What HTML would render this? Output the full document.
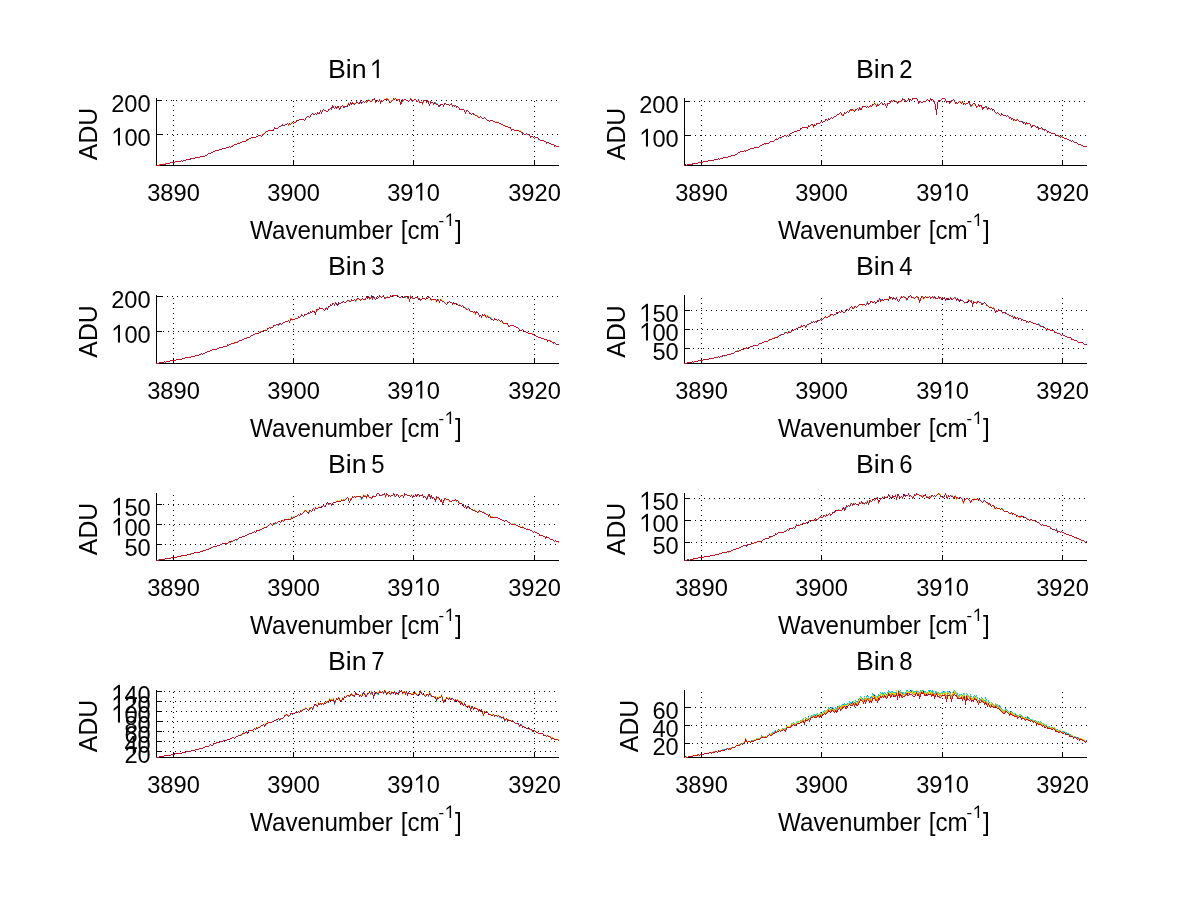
<!DOCTYPE html>
<html><head><meta charset="utf-8"><title>Bins</title>
<style>html,body{margin:0;padding:0;background:#fff;}svg{display:block;font-family:"Liberation Sans", sans-serif;fill:#000;}</style></head><body>
<svg width="1200" height="901" viewBox="0 0 1200 901">
<rect x="0" y="0" width="1200" height="901" fill="#fff"/>
<g fill="#000" stroke="#000" stroke-width="1" stroke-dasharray="1 4" shape-rendering="crispEdges">
<line x1="173.5" y1="166" x2="173.5" y2="99"/>
<rect x="173" y="160" width="1" height="5" stroke="none"/>
<line x1="293.5" y1="162" x2="293.5" y2="99"/>
<rect x="293" y="160" width="1" height="5" stroke="none"/>
<line x1="413.5" y1="166" x2="413.5" y2="99"/>
<rect x="413" y="160" width="1" height="5" stroke="none"/>
<line x1="534.5" y1="162" x2="534.5" y2="99"/>
<rect x="534" y="160" width="1" height="5" stroke="none"/>
<line x1="161" y1="100.5" x2="559" y2="100.5"/>
<rect x="157" y="100" width="5" height="1" stroke="none"/>
<line x1="162" y1="134.5" x2="559" y2="134.5"/>
<rect x="157" y="134" width="5" height="1" stroke="none"/>
</g>
<g fill="#000" shape-rendering="crispEdges">
<rect x="156" y="98" width="1" height="68"/>
<rect x="156" y="165" width="403" height="1"/>
</g>
<g shape-rendering="crispEdges">
<path fill="#c01028" d="M156 165h4v1h-4zM160 164h6v1h-6zM166 163h4v1h-4zM170 162h5v1h-5zM175 161h6v1h-6zM181 160h1v1h-1zM182 161h1v1h-1zM183 160h3v1h-3zM186 159h4v1h-4zM190 158h5v1h-5zM195 157h5v1h-5zM200 156h5v1h-5zM205 155h2v1h-2zM207 154h1v1h-1zM208 153h3v1h-3zM211 152h2v1h-2zM213 151h2v1h-2zM215 150h4v1h-4zM219 149h3v1h-3zM222 148h4v1h-4zM226 147h3v1h-3zM229 146h1v1h-1zM230 147h1v1h-1zM231 146h2v1h-2zM233 145h1v1h-1zM234 144h3v1h-3zM237 143h3v1h-3zM240 142h2v1h-2zM242 141h4v1h-4zM246 140h1v1h-1zM247 139h2v1h-2zM249 138h2v1h-2zM251 137h5v1h-5zM256 136h2v1h-2zM258 135h3v1h-3zM261 136h1v1h-1zM262 134h1v2h-1zM263 134h1v1h-1zM264 133h1v1h-1zM265 132h1v1h-1zM266 131h2v1h-2zM268 130h5v1h-5zM273 129h1v2h-1zM274 127h1v2h-1zM275 128h3v1h-3zM278 127h1v1h-1zM279 126h2v1h-2zM281 125h1v1h-1zM282 124h1v1h-1zM283 125h2v1h-2zM285 124h2v1h-2zM287 123h1v1h-1zM288 124h1v1h-1zM289 123h1v1h-1zM290 124h1v1h-1zM291 123h1v1h-1zM292 122h1v1h-1zM293 123h1v1h-1zM294 122h2v1h-2zM296 120h1v2h-1zM297 120h2v1h-2zM299 119h5v1h-5zM304 120h1v1h-1zM305 118h1v2h-1zM306 117h1v1h-1zM307 116h2v1h-2zM309 117h1v1h-1zM310 115h1v2h-1zM311 114h1v1h-1zM312 113h1v1h-1zM313 114h2v1h-2zM315 113h1v1h-1zM316 114h1v1h-1zM317 112h1v2h-1zM318 113h1v1h-1zM319 112h1v2h-1zM320 110h1v2h-1zM321 112h1v2h-1zM322 110h1v2h-1zM323 109h1v1h-1zM324 110h2v1h-2zM326 111h2v1h-2zM328 109h1v2h-1zM329 109h1v1h-1zM330 108h1v1h-1zM331 107h1v2h-1zM332 105h1v2h-1zM333 106h1v2h-1zM334 108h1v1h-1zM335 106h1v2h-1zM336 107h1v2h-1zM337 106h2v2h-2zM339 108h1v2h-1zM340 107h1v2h-1zM341 106h1v1h-1zM342 105h1v1h-1zM343 106h1v2h-1zM344 106h3v1h-3zM347 105h1v1h-1zM348 103h1v2h-1zM349 104h1v2h-1zM350 102h1v2h-1zM351 103h1v2h-1zM352 102h1v2h-1zM353 103h1v1h-1zM354 104h1v1h-1zM355 103h1v1h-1zM356 101h1v2h-1zM357 102h1v1h-1zM358 103h1v1h-1zM359 102h1v2h-1zM360 100h1v2h-1zM361 102h1v2h-1zM362 102h1v1h-1zM363 101h1v1h-1zM364 102h1v1h-1zM365 101h1v1h-1zM366 102h1v1h-1zM367 100h1v2h-1zM368 100h2v1h-2zM370 101h2v1h-2zM372 99h1v2h-1zM373 99h1v1h-1zM374 98h1v2h-1zM375 100h1v3h-1zM376 101h1v1h-1zM377 100h1v1h-1zM378 101h1v1h-1zM379 99h1v2h-1zM380 101h1v3h-1zM381 100h1v2h-1zM382 101h1v1h-1zM383 100h1v1h-1zM384 99h4v1h-4zM388 100h1v1h-1zM389 101h1v2h-1zM390 102h1v1h-1zM391 101h1v1h-1zM392 100h1v1h-1zM393 98h1v2h-1zM394 99h1v1h-1zM395 98h1v1h-1zM396 99h1v1h-1zM397 100h1v1h-1zM398 99h1v1h-1zM399 99h1v3h-1zM400 102h1v3h-1zM401 101h1v3h-1zM402 99h1v2h-1zM403 100h1v1h-1zM404 99h2v1h-2zM406 100h2v1h-2zM408 101h1v1h-1zM409 100h1v1h-1zM410 98h1v2h-1zM411 99h1v2h-1zM412 100h2v1h-2zM414 99h2v1h-2zM416 100h1v2h-1zM417 101h1v1h-1zM418 99h1v2h-1zM419 101h1v2h-1zM420 102h2v1h-2zM422 102h1v2h-1zM423 100h1v2h-1zM424 100h2v1h-2zM426 101h1v2h-1zM427 100h1v2h-1zM428 101h1v3h-1zM429 104h1v2h-1zM430 101h1v3h-1zM431 102h2v1h-2zM433 103h1v2h-1zM434 102h1v2h-1zM435 103h1v1h-1zM436 104h2v1h-2zM438 105h1v2h-1zM439 105h1v1h-1zM440 104h3v1h-3zM443 105h1v2h-1zM444 103h1v2h-1zM445 103h1v1h-1zM446 104h3v1h-3zM449 105h1v1h-1zM450 104h1v1h-1zM451 103h1v2h-1zM452 105h1v2h-1zM453 105h1v1h-1zM454 106h1v1h-1zM455 105h1v1h-1zM456 106h1v2h-1zM457 106h1v1h-1zM458 107h1v1h-1zM459 108h1v2h-1zM460 109h4v1h-4zM464 110h1v2h-1zM465 112h1v2h-1zM466 110h1v2h-1zM467 110h1v1h-1zM468 111h1v1h-1zM469 112h1v2h-1zM470 113h1v1h-1zM471 114h1v1h-1zM472 113h2v1h-2zM474 114h1v1h-1zM475 115h2v1h-2zM477 116h1v1h-1zM478 117h2v1h-2zM480 116h1v1h-1zM481 117h1v1h-1zM482 118h2v1h-2zM484 117h1v1h-1zM485 118h1v1h-1zM486 119h1v1h-1zM487 120h2v1h-2zM489 121h1v1h-1zM490 120h3v1h-3zM493 121h2v1h-2zM495 122h4v1h-4zM499 123h2v1h-2zM501 124h2v1h-2zM503 125h2v1h-2zM505 126h3v1h-3zM508 127h2v1h-2zM510 127h1v2h-1zM511 129h1v2h-1zM512 129h2v1h-2zM514 130h5v1h-5zM519 131h2v1h-2zM521 132h2v1h-2zM523 133h1v1h-1zM524 134h2v1h-2zM526 133h1v1h-1zM527 134h2v1h-2zM529 134h1v2h-1zM530 136h1v2h-1zM531 136h2v1h-2zM533 137h1v1h-1zM534 138h1v1h-1zM535 137h3v1h-3zM538 138h1v1h-1zM539 139h1v1h-1zM540 140h4v1h-4zM544 141h2v1h-2zM546 142h1v2h-1zM547 142h2v1h-2zM549 143h2v1h-2zM551 144h3v1h-3zM554 145h1v2h-1zM555 145h1v1h-1zM556 146h3v1h-3z"/>
<path fill="#ff8000" d="M159 164h1v1h-1zM165 163h1v1h-1zM232 145h1v1h-1zM246 139h1v1h-1zM247 140h1v1h-1zM288 125h1v1h-1zM289 124h1v1h-1zM340 106h1v1h-1zM354 103h1v1h-1zM386 98h2v1h-2zM388 99h1v1h-1zM391 100h1v1h-1zM397 99h1v1h-1zM422 104h1v1h-1zM423 102h1v1h-1z"/>
<path fill="#e8e000" d="M238 142h1v1h-1zM263 133h1v1h-1zM291 122h1v1h-1zM295 121h1v1h-1zM347 104h1v1h-1zM348 102h1v1h-1zM366 101h1v1h-1zM371 100h1v1h-1zM394 98h1v1h-1zM400 101h1v1h-1zM477 115h1v1h-1zM478 116h1v1h-1zM496 121h1v1h-1zM505 125h1v1h-1zM520 130h1v1h-1zM521 131h1v1h-1z"/>
<path fill="#0060ff" d="M190 159h1v1h-1zM282 125h1v1h-1zM331 109h1v1h-1zM332 107h1v1h-1zM344 107h1v1h-1zM360 102h1v1h-1zM402 101h1v1h-1zM412 101h1v1h-1zM439 106h1v1h-1zM440 105h1v1h-1zM473 114h1v1h-1zM522 133h1v1h-1zM538 139h1v1h-1z"/>
<path fill="#0000c0" d="M347 106h1v1h-1z"/>
<path fill="#60e090" d="M265 131h1v1h-1zM313 113h1v1h-1zM353 104h1v1h-1zM368 99h1v1h-1zM437 103h1v1h-1z"/>
<path fill="#00c8e8" d="M435 102h1v1h-1zM436 103h1v1h-1zM454 105h1v1h-1z"/>
</g>
<g fill="#000" stroke="#000" stroke-width="1" stroke-dasharray="1 4" shape-rendering="crispEdges">
<line x1="701.5" y1="166" x2="701.5" y2="99"/>
<rect x="701" y="160" width="1" height="5" stroke="none"/>
<line x1="821.5" y1="166" x2="821.5" y2="99"/>
<rect x="821" y="160" width="1" height="5" stroke="none"/>
<line x1="942.5" y1="162" x2="942.5" y2="99"/>
<rect x="942" y="160" width="1" height="5" stroke="none"/>
<line x1="1062.5" y1="166" x2="1062.5" y2="99"/>
<rect x="1062" y="160" width="1" height="5" stroke="none"/>
<line x1="689" y1="101.5" x2="1087" y2="101.5"/>
<rect x="685" y="101" width="5" height="1" stroke="none"/>
<line x1="690" y1="135.5" x2="1087" y2="135.5"/>
<rect x="685" y="135" width="5" height="1" stroke="none"/>
</g>
<g fill="#000" shape-rendering="crispEdges">
<rect x="684" y="98" width="1" height="68"/>
<rect x="684" y="165" width="403" height="1"/>
</g>
<g shape-rendering="crispEdges">
<path fill="#c01028" d="M684 165h1v1h-1zM685 164h1v1h-1zM686 165h1v1h-1zM687 164h6v1h-6zM693 163h5v1h-5zM698 162h5v1h-5zM703 161h5v1h-5zM708 160h6v1h-6zM714 159h4v1h-4zM718 158h1v1h-1zM719 159h1v1h-1zM720 158h3v1h-3zM723 157h5v1h-5zM728 156h3v1h-3zM731 155h4v1h-4zM735 154h2v1h-2zM737 153h1v1h-1zM738 152h2v1h-2zM740 151h4v1h-4zM744 150h1v1h-1zM745 151h1v1h-1zM746 150h2v1h-2zM748 149h2v1h-2zM750 148h4v1h-4zM754 147h5v1h-5zM759 146h1v1h-1zM760 145h2v1h-2zM762 144h2v1h-2zM764 143h5v1h-5zM769 142h1v1h-1zM770 141h4v1h-4zM774 140h1v1h-1zM775 139h3v1h-3zM778 138h1v1h-1zM779 137h3v1h-3zM782 136h2v1h-2zM784 135h2v1h-2zM786 136h1v1h-1zM787 135h1v1h-1zM788 136h1v1h-1zM789 134h1v2h-1zM790 133h2v1h-2zM792 132h2v1h-2zM794 131h3v1h-3zM797 130h3v1h-3zM800 128h1v2h-1zM801 128h1v1h-1zM802 127h5v1h-5zM807 127h1v2h-1zM808 125h1v2h-1zM809 126h1v1h-1zM810 125h1v1h-1zM811 124h2v1h-2zM813 125h1v2h-1zM814 124h1v2h-1zM815 125h1v1h-1zM816 123h1v2h-1zM817 123h3v1h-3zM820 122h1v1h-1zM821 121h1v1h-1zM822 122h1v1h-1zM823 121h2v1h-2zM825 119h1v2h-1zM826 119h1v1h-1zM827 120h1v1h-1zM828 118h1v2h-1zM829 119h1v1h-1zM830 118h1v1h-1zM831 117h1v1h-1zM832 118h1v1h-1zM833 117h1v1h-1zM834 116h2v1h-2zM836 115h1v1h-1zM837 114h2v1h-2zM839 113h1v1h-1zM840 112h1v1h-1zM841 113h1v2h-1zM842 115h1v1h-1zM843 114h1v2h-1zM844 112h1v2h-1zM845 113h1v1h-1zM846 112h1v1h-1zM847 111h1v1h-1zM848 112h1v1h-1zM849 110h1v2h-1zM850 109h1v1h-1zM851 110h1v1h-1zM852 109h1v1h-1zM853 110h1v1h-1zM854 111h1v1h-1zM855 109h1v2h-1zM856 109h1v1h-1zM857 108h1v1h-1zM858 109h1v2h-1zM859 107h1v2h-1zM860 108h2v2h-2zM862 106h1v2h-1zM863 106h3v1h-3zM866 107h1v1h-1zM867 106h1v1h-1zM868 107h1v1h-1zM869 106h1v1h-1zM870 105h1v1h-1zM871 106h1v1h-1zM872 104h1v2h-1zM873 104h1v1h-1zM874 103h1v1h-1zM875 104h1v1h-1zM876 105h1v2h-1zM877 104h1v2h-1zM878 105h1v1h-1zM879 104h1v1h-1zM880 103h1v1h-1zM881 102h1v1h-1zM882 103h1v2h-1zM883 104h1v1h-1zM884 103h1v1h-1zM885 104h1v2h-1zM886 106h1v2h-1zM887 103h1v3h-1zM888 103h2v1h-2zM890 101h1v2h-1zM891 100h1v1h-1zM892 101h1v1h-1zM893 100h2v1h-2zM895 101h2v1h-2zM897 102h1v2h-1zM898 101h1v2h-1zM899 101h2v1h-2zM901 100h1v1h-1zM902 99h3v1h-3zM905 100h1v2h-1zM906 101h1v1h-1zM907 100h1v1h-1zM908 98h1v2h-1zM909 99h1v2h-1zM910 99h1v1h-1zM911 100h1v1h-1zM912 98h1v2h-1zM913 98h4v1h-4zM917 99h1v2h-1zM918 101h1v3h-1zM919 101h1v2h-1zM920 101h1v1h-1zM921 102h2v1h-2zM923 101h3v1h-3zM926 100h1v1h-1zM927 99h1v1h-1zM928 100h2v1h-2zM930 98h1v2h-1zM931 99h1v2h-1zM932 99h1v1h-1zM933 100h1v2h-1zM934 101h1v3h-1zM935 104h1v6h-1zM936 109h1v6h-1zM937 102h1v7h-1zM938 100h1v2h-1zM939 100h2v1h-2zM941 99h1v1h-1zM942 98h3v1h-3zM945 99h1v2h-1zM946 101h1v2h-1zM947 101h2v1h-2zM949 102h1v2h-1zM950 101h1v2h-1zM951 101h1v1h-1zM952 100h1v1h-1zM953 99h1v1h-1zM954 100h1v2h-1zM955 102h1v2h-1zM956 102h1v1h-1zM957 103h1v1h-1zM958 102h1v1h-1zM959 101h1v1h-1zM960 102h1v1h-1zM961 103h1v1h-1zM962 101h1v2h-1zM963 103h1v2h-1zM964 103h1v1h-1zM965 104h1v1h-1zM966 103h2v1h-2zM968 101h1v2h-1zM969 102h1v2h-1zM970 104h1v2h-1zM971 105h1v1h-1zM972 104h1v1h-1zM973 103h2v1h-2zM975 104h1v2h-1zM976 106h1v2h-1zM977 106h1v1h-1zM978 104h1v2h-1zM979 105h1v2h-1zM980 105h1v1h-1zM981 105h1v2h-1zM982 107h1v3h-1zM983 107h1v2h-1zM984 107h1v1h-1zM985 106h1v1h-1zM986 107h1v1h-1zM987 108h1v2h-1zM988 107h1v2h-1zM989 108h1v1h-1zM990 109h1v1h-1zM991 108h1v1h-1zM992 109h1v2h-1zM993 109h1v1h-1zM994 110h1v2h-1zM995 112h1v1h-1zM996 113h1v1h-1zM997 112h1v1h-1zM998 113h1v1h-1zM999 114h1v1h-1zM1000 115h1v1h-1zM1001 113h1v2h-1zM1002 114h1v1h-1zM1003 115h3v1h-3zM1006 116h1v1h-1zM1007 115h1v1h-1zM1008 116h1v1h-1zM1009 117h1v2h-1zM1010 117h1v1h-1zM1011 118h1v2h-1zM1012 118h1v1h-1zM1013 119h1v2h-1zM1014 119h1v1h-1zM1015 120h2v1h-2zM1017 119h1v1h-1zM1018 120h1v1h-1zM1019 121h3v1h-3zM1022 122h1v1h-1zM1023 123h1v1h-1zM1024 122h1v1h-1zM1025 123h1v2h-1zM1026 123h4v1h-4zM1030 124h1v2h-1zM1031 126h1v2h-1zM1032 125h1v2h-1zM1033 125h2v1h-2zM1035 126h1v1h-1zM1036 127h1v1h-1zM1037 126h1v2h-1zM1038 128h1v2h-1zM1039 128h2v1h-2zM1041 127h1v1h-1zM1042 128h1v2h-1zM1043 129h1v1h-1zM1044 130h1v1h-1zM1045 129h1v1h-1zM1046 130h1v1h-1zM1047 131h1v2h-1zM1048 131h1v1h-1zM1049 132h2v1h-2zM1051 133h4v1h-4zM1055 134h1v1h-1zM1056 135h3v1h-3zM1059 136h1v1h-1zM1060 137h1v1h-1zM1061 136h1v1h-1zM1062 137h2v1h-2zM1064 138h3v1h-3zM1067 139h2v1h-2zM1069 140h2v1h-2zM1071 141h1v1h-1zM1072 140h1v1h-1zM1073 141h1v1h-1zM1074 142h3v1h-3zM1077 143h1v1h-1zM1078 144h3v1h-3zM1081 145h2v1h-2zM1083 146h4v1h-4z"/>
<path fill="#60e090" d="M745 150h1v1h-1zM877 103h1v1h-1zM878 104h1v1h-1zM896 102h1v1h-1zM985 107h1v1h-1zM1041 128h1v1h-1zM1060 136h1v1h-1z"/>
<path fill="#ff8000" d="M765 144h1v1h-1zM776 138h1v1h-1zM812 125h1v1h-1zM813 127h1v1h-1zM850 110h1v1h-1zM852 110h1v1h-1zM870 106h1v1h-1zM891 101h1v1h-1zM901 101h1v1h-1zM902 100h1v1h-1zM956 103h1v1h-1zM960 101h1v1h-1zM961 102h1v1h-1zM971 106h1v1h-1zM972 105h1v1h-1zM981 107h1v1h-1zM1016 119h1v1h-1z"/>
<path fill="#e8e000" d="M842 114h1v1h-1zM853 109h1v1h-1zM854 110h1v1h-1zM871 105h1v1h-1zM874 102h1v1h-1zM875 103h1v1h-1zM965 103h1v1h-1zM974 104h1v1h-1zM1014 120h1v1h-1zM1027 124h1v1h-1zM1061 135h1v1h-1zM1062 136h1v1h-1z"/>
<path fill="#0060ff" d="M692 163h1v1h-1zM851 109h1v1h-1zM902 98h1v1h-1zM951 100h1v1h-1zM986 106h1v1h-1zM1022 121h1v1h-1zM1023 122h1v1h-1zM1026 122h1v1h-1zM1038 127h1v1h-1zM1044 129h1v1h-1z"/>
<path fill="#00c8e8" d="M780 138h1v1h-1zM859 109h1v1h-1zM904 100h1v1h-1zM969 104h1v1h-1zM970 106h1v1h-1zM1058 136h1v1h-1z"/>
</g>
<g fill="#000" stroke="#000" stroke-width="1" stroke-dasharray="1 4" shape-rendering="crispEdges">
<line x1="173.5" y1="364" x2="173.5" y2="296"/>
<rect x="173" y="358" width="1" height="5" stroke="none"/>
<line x1="293.5" y1="360" x2="293.5" y2="296"/>
<rect x="293" y="358" width="1" height="5" stroke="none"/>
<line x1="413.5" y1="364" x2="413.5" y2="296"/>
<rect x="413" y="358" width="1" height="5" stroke="none"/>
<line x1="534.5" y1="360" x2="534.5" y2="296"/>
<rect x="534" y="358" width="1" height="5" stroke="none"/>
<line x1="162" y1="296.5" x2="559" y2="296.5"/>
<rect x="157" y="296" width="5" height="1" stroke="none"/>
<line x1="163" y1="331.5" x2="559" y2="331.5"/>
<rect x="157" y="331" width="5" height="1" stroke="none"/>
</g>
<g fill="#000" shape-rendering="crispEdges">
<rect x="156" y="295" width="1" height="69"/>
<rect x="156" y="363" width="403" height="1"/>
</g>
<g shape-rendering="crispEdges">
<path fill="#c01028" d="M156 363h3v1h-3zM159 362h5v1h-5zM164 361h1v1h-1zM165 362h1v1h-1zM166 361h4v1h-4zM170 360h6v1h-6zM176 359h6v1h-6zM182 358h3v1h-3zM185 357h6v1h-6zM191 356h4v1h-4zM195 355h4v1h-4zM199 354h2v1h-2zM201 353h1v1h-1zM202 354h1v1h-1zM203 353h2v1h-2zM205 352h2v1h-2zM207 351h3v1h-3zM210 350h2v1h-2zM212 349h5v1h-5zM217 348h2v1h-2zM219 347h4v1h-4zM223 346h4v1h-4zM227 344h1v2h-1zM228 345h1v1h-1zM229 344h2v1h-2zM231 343h3v1h-3zM234 342h4v1h-4zM238 341h1v1h-1zM239 340h3v1h-3zM242 339h2v1h-2zM244 338h3v1h-3zM247 337h3v1h-3zM250 336h1v1h-1zM251 335h2v1h-2zM253 334h2v1h-2zM255 333h4v1h-4zM259 332h2v1h-2zM261 331h2v1h-2zM263 330h4v1h-4zM267 328h1v2h-1zM268 328h1v1h-1zM269 327h1v1h-1zM270 328h1v1h-1zM271 327h2v1h-2zM273 325h1v2h-1zM274 325h2v1h-2zM276 324h3v1h-3zM279 323h2v1h-2zM281 324h1v1h-1zM282 323h1v1h-1zM283 322h2v1h-2zM285 321h3v1h-3zM288 320h1v1h-1zM289 321h1v2h-1zM290 319h1v2h-1zM291 319h4v1h-4zM295 318h3v1h-3zM298 316h1v2h-1zM299 317h1v1h-1zM300 316h1v1h-1zM301 314h1v2h-1zM302 315h1v1h-1zM303 316h1v1h-1zM304 314h1v2h-1zM305 314h2v1h-2zM307 313h1v1h-1zM308 312h1v1h-1zM309 313h1v1h-1zM310 311h1v2h-1zM311 312h1v1h-1zM312 311h2v1h-2zM314 311h1v2h-1zM315 312h1v3h-1zM316 309h1v3h-1zM317 309h2v1h-2zM319 307h1v2h-1zM320 308h3v1h-3zM323 309h1v1h-1zM324 310h1v1h-1zM325 308h1v2h-1zM326 308h1v1h-1zM327 308h1v2h-1zM328 306h1v2h-1zM329 306h1v1h-1zM330 304h1v2h-1zM331 305h1v1h-1zM332 303h1v2h-1zM333 303h1v1h-1zM334 304h1v2h-1zM335 302h1v2h-1zM336 303h1v2h-1zM337 305h1v1h-1zM338 303h1v2h-1zM339 303h2v1h-2zM341 302h2v1h-2zM343 301h1v1h-1zM344 302h2v1h-2zM346 301h1v1h-1zM347 300h2v1h-2zM349 301h2v1h-2zM351 299h1v2h-1zM352 300h2v1h-2zM354 299h1v1h-1zM355 300h1v1h-1zM356 299h1v1h-1zM357 298h2v1h-2zM359 299h1v1h-1zM360 300h1v1h-1zM361 299h1v1h-1zM362 298h1v1h-1zM363 299h2v1h-2zM365 298h1v2h-1zM366 296h1v2h-1zM367 297h1v2h-1zM368 296h1v2h-1zM369 297h1v2h-1zM370 298h1v1h-1zM371 296h1v2h-1zM372 298h1v2h-1zM373 296h1v2h-1zM374 297h1v2h-1zM375 299h1v1h-1zM376 297h1v2h-1zM377 298h1v1h-1zM378 297h1v1h-1zM379 295h1v2h-1zM380 296h1v1h-1zM381 297h1v1h-1zM382 296h1v1h-1zM383 295h1v2h-1zM384 297h1v2h-1zM385 298h1v1h-1zM386 297h4v1h-4zM390 295h1v2h-1zM391 296h1v1h-1zM392 295h6v1h-6zM398 296h1v1h-1zM399 297h2v1h-2zM401 296h1v1h-1zM402 297h2v1h-2zM404 296h3v1h-3zM407 297h1v1h-1zM408 296h1v3h-1zM409 299h1v3h-1zM410 296h1v3h-1zM411 297h1v1h-1zM412 298h3v1h-3zM415 297h3v1h-3zM418 298h1v2h-1zM419 298h1v1h-1zM420 299h1v2h-1zM421 299h1v1h-1zM422 298h3v1h-3zM425 299h1v1h-1zM426 297h1v2h-1zM427 298h1v1h-1zM428 296h1v2h-1zM429 297h1v1h-1zM430 298h1v2h-1zM431 299h5v1h-5zM436 300h1v2h-1zM437 299h1v2h-1zM438 300h1v1h-1zM439 301h1v2h-1zM440 299h1v2h-1zM441 300h1v1h-1zM442 301h2v1h-2zM444 302h1v1h-1zM445 303h1v1h-1zM446 304h1v1h-1zM447 302h1v2h-1zM448 302h1v1h-1zM449 301h1v1h-1zM450 302h2v1h-2zM452 303h1v2h-1zM453 303h4v1h-4zM457 304h1v1h-1zM458 305h3v1h-3zM461 306h1v1h-1zM462 305h1v1h-1zM463 306h1v2h-1zM464 307h1v1h-1zM465 308h1v1h-1zM466 309h2v1h-2zM468 308h1v1h-1zM469 309h1v2h-1zM470 311h3v1h-3zM473 312h1v1h-1zM474 311h1v1h-1zM475 312h1v2h-1zM476 311h1v2h-1zM477 312h1v1h-1zM478 313h1v2h-1zM479 315h1v2h-1zM480 315h1v1h-1zM481 316h1v2h-1zM482 314h1v2h-1zM483 315h1v1h-1zM484 314h1v1h-1zM485 315h1v2h-1zM486 317h1v1h-1zM487 316h1v1h-1zM488 317h2v1h-2zM490 318h1v1h-1zM491 319h2v1h-2zM493 320h1v1h-1zM494 318h1v2h-1zM495 319h2v1h-2zM497 320h1v1h-1zM498 319h1v1h-1zM499 320h1v1h-1zM500 321h1v1h-1zM501 320h1v1h-1zM502 321h1v2h-1zM503 323h4v1h-4zM507 323h1v2h-1zM508 325h1v2h-1zM509 326h1v1h-1zM510 325h4v1h-4zM514 326h2v1h-2zM516 327h2v1h-2zM518 328h1v1h-1zM519 329h1v2h-1zM520 330h2v1h-2zM522 329h1v1h-1zM523 330h1v1h-1zM524 331h2v1h-2zM526 332h2v1h-2zM528 333h4v1h-4zM532 334h2v1h-2zM534 335h2v1h-2zM536 336h2v1h-2zM538 337h3v1h-3zM541 338h3v1h-3zM544 339h3v1h-3zM547 340h1v2h-1zM548 340h2v1h-2zM550 341h2v1h-2zM552 342h3v1h-3zM555 343h1v1h-1zM556 344h3v1h-3z"/>
<path fill="#0060ff" d="M278 325h1v1h-1zM279 324h1v1h-1zM308 313h1v1h-1zM371 295h1v1h-1zM372 297h1v1h-1zM404 297h1v1h-1zM419 299h1v1h-1zM453 302h1v1h-1zM553 343h1v1h-1z"/>
<path fill="#60e090" d="M246 337h1v1h-1zM280 324h1v1h-1zM342 301h1v1h-1zM349 300h1v1h-1zM370 297h1v1h-1zM410 295h1v1h-1zM411 296h1v1h-1zM417 298h1v1h-1zM465 307h1v1h-1zM466 308h1v1h-1z"/>
<path fill="#e8e000" d="M265 329h1v1h-1zM292 320h1v1h-1zM435 300h1v1h-1zM436 302h1v1h-1zM441 299h1v1h-1zM442 300h1v1h-1zM454 304h1v1h-1zM486 316h1v1h-1zM501 321h1v1h-1zM503 322h1v1h-1zM532 333h1v1h-1z"/>
<path fill="#0000c0" d="M337 304h1v1h-1zM338 302h1v1h-1zM456 304h1v1h-1z"/>
<path fill="#ff8000" d="M234 343h1v1h-1zM237 341h1v1h-1zM260 331h1v1h-1zM270 327h1v1h-1zM290 318h2v1h-2zM312 310h1v1h-1zM317 310h1v1h-1zM356 300h1v1h-1zM357 299h1v1h-1zM360 299h1v1h-1zM369 299h1v1h-1zM387 296h1v1h-1zM393 296h1v1h-1zM407 298h1v1h-1zM412 297h1v1h-1zM422 297h1v1h-1zM431 300h1v1h-1zM438 299h1v1h-1zM459 304h1v1h-1zM474 312h1v1h-1zM475 314h1v1h-1zM484 315h1v1h-1zM487 315h1v1h-1zM488 316h1v1h-1zM550 340h1v1h-1z"/>
<path fill="#00c8e8" d="M326 307h1v1h-1zM355 301h1v1h-1zM385 297h1v1h-1zM405 297h1v1h-1zM490 317h1v1h-1zM491 318h1v1h-1z"/>
</g>
<g fill="#000" stroke="#000" stroke-width="1" stroke-dasharray="1 4" shape-rendering="crispEdges">
<line x1="701.5" y1="364" x2="701.5" y2="296"/>
<rect x="701" y="358" width="1" height="5" stroke="none"/>
<line x1="821.5" y1="364" x2="821.5" y2="296"/>
<rect x="821" y="358" width="1" height="5" stroke="none"/>
<line x1="942.5" y1="360" x2="942.5" y2="296"/>
<rect x="942" y="358" width="1" height="5" stroke="none"/>
<line x1="1062.5" y1="364" x2="1062.5" y2="296"/>
<rect x="1062" y="358" width="1" height="5" stroke="none"/>
<line x1="691" y1="310.5" x2="1087" y2="310.5"/>
<rect x="685" y="310" width="5" height="1" stroke="none"/>
<line x1="692" y1="329.5" x2="1087" y2="329.5"/>
<rect x="685" y="329" width="5" height="1" stroke="none"/>
<line x1="693" y1="348.5" x2="1087" y2="348.5"/>
<rect x="685" y="348" width="5" height="1" stroke="none"/>
</g>
<g fill="#000" shape-rendering="crispEdges">
<rect x="684" y="295" width="1" height="69"/>
<rect x="684" y="363" width="403" height="1"/>
</g>
<g shape-rendering="crispEdges">
<path fill="#c01028" d="M684 363h3v1h-3zM687 362h5v1h-5zM692 361h1v1h-1zM693 362h1v1h-1zM694 361h4v1h-4zM698 360h5v1h-5zM703 359h6v1h-6zM709 358h5v1h-5zM714 357h4v1h-4zM718 356h1v1h-1zM719 357h1v1h-1zM720 356h3v1h-3zM723 355h4v1h-4zM727 354h4v1h-4zM731 353h3v1h-3zM734 352h1v1h-1zM735 351h4v1h-4zM739 350h2v1h-2zM741 349h3v1h-3zM744 348h2v1h-2zM746 347h1v1h-1zM747 348h1v1h-1zM748 347h2v1h-2zM750 346h3v1h-3zM753 345h5v1h-5zM758 344h1v1h-1zM759 343h3v1h-3zM762 342h2v1h-2zM764 341h4v1h-4zM768 340h1v1h-1zM769 339h3v1h-3zM772 338h3v1h-3zM775 337h3v1h-3zM778 336h1v1h-1zM779 335h2v1h-2zM781 334h3v1h-3zM784 333h1v1h-1zM785 332h2v1h-2zM787 333h1v1h-1zM788 331h1v2h-1zM789 332h2v1h-2zM791 330h1v2h-1zM792 330h2v1h-2zM794 329h2v1h-2zM796 328h2v1h-2zM798 327h3v1h-3zM801 325h1v2h-1zM802 326h1v1h-1zM803 325h2v1h-2zM805 326h1v2h-1zM806 325h1v2h-1zM807 324h2v1h-2zM809 323h2v1h-2zM811 322h2v1h-2zM813 321h1v1h-1zM814 322h1v1h-1zM815 321h1v1h-1zM816 322h1v1h-1zM817 320h1v2h-1zM818 320h2v1h-2zM820 319h1v1h-1zM821 320h1v1h-1zM822 319h1v1h-1zM823 318h1v1h-1zM824 317h1v1h-1zM825 316h1v1h-1zM826 317h2v1h-2zM828 316h2v1h-2zM830 314h1v2h-1zM831 314h2v1h-2zM833 315h1v1h-1zM834 314h2v1h-2zM836 312h1v2h-1zM837 312h2v1h-2zM839 311h1v1h-1zM840 312h1v1h-1zM841 311h2v1h-2zM843 312h2v1h-2zM845 310h1v2h-1zM846 309h2v1h-2zM848 310h1v1h-1zM849 308h1v2h-1zM850 307h1v1h-1zM851 306h1v1h-1zM852 307h1v2h-1zM853 308h1v1h-1zM854 306h1v2h-1zM855 306h1v1h-1zM856 307h1v1h-1zM857 306h1v1h-1zM858 305h1v1h-1zM859 304h6v1h-6zM865 305h1v1h-1zM866 304h1v1h-1zM867 302h1v2h-1zM868 303h1v2h-1zM869 303h1v1h-1zM870 301h1v2h-1zM871 301h1v1h-1zM872 302h2v1h-2zM874 301h1v1h-1zM875 302h1v2h-1zM876 302h1v1h-1zM877 300h2v2h-2zM879 298h1v2h-1zM880 300h1v2h-1zM881 300h1v1h-1zM882 299h1v1h-1zM883 300h1v1h-1zM884 299h4v1h-4zM888 299h1v2h-1zM889 296h1v3h-1zM890 297h1v2h-1zM891 297h1v1h-1zM892 298h1v2h-1zM893 297h1v2h-1zM894 298h1v1h-1zM895 299h1v1h-1zM896 297h1v2h-1zM897 299h1v2h-1zM898 301h1v1h-1zM899 299h1v2h-1zM900 298h1v1h-1zM901 296h1v2h-1zM902 297h1v1h-1zM903 296h1v1h-1zM904 297h2v1h-2zM906 298h2v2h-2zM908 296h1v2h-1zM909 296h1v1h-1zM910 295h1v1h-1zM911 296h1v2h-1zM912 297h2v1h-2zM914 298h1v1h-1zM915 297h1v1h-1zM916 296h1v1h-1zM917 297h1v1h-1zM918 297h1v3h-1zM919 300h1v3h-1zM920 298h1v3h-1zM921 296h1v2h-1zM922 296h1v1h-1zM923 297h1v2h-1zM924 297h1v1h-1zM925 296h1v1h-1zM926 297h3v1h-3zM929 296h1v1h-1zM930 297h1v2h-1zM931 297h1v1h-1zM932 296h1v1h-1zM933 297h2v1h-2zM935 298h3v1h-3zM938 296h1v2h-1zM939 297h1v2h-1zM940 297h1v1h-1zM941 298h1v2h-1zM942 297h1v2h-1zM943 298h1v1h-1zM944 297h1v2h-1zM945 299h1v2h-1zM946 298h1v2h-1zM947 298h2v1h-2zM949 299h1v1h-1zM950 297h1v2h-1zM951 298h1v2h-1zM952 299h1v1h-1zM953 298h1v1h-1zM954 297h1v1h-1zM955 298h1v1h-1zM956 299h1v2h-1zM957 298h1v2h-1zM958 299h1v2h-1zM959 300h1v1h-1zM960 299h1v1h-1zM961 300h2v1h-2zM963 301h1v1h-1zM964 302h3v1h-3zM967 301h1v1h-1zM968 300h2v1h-2zM970 301h1v1h-1zM971 300h1v3h-1zM972 303h1v4h-1zM973 301h1v3h-1zM974 302h2v1h-2zM976 303h1v1h-1zM977 301h1v2h-1zM978 301h1v1h-1zM979 302h2v1h-2zM981 303h1v2h-1zM982 304h1v1h-1zM983 303h1v1h-1zM984 302h1v1h-1zM985 303h1v1h-1zM986 304h1v2h-1zM987 305h1v1h-1zM988 306h1v1h-1zM989 307h3v1h-3zM992 308h2v1h-2zM994 309h1v2h-1zM995 311h1v2h-1zM996 310h1v2h-1zM997 311h1v1h-1zM998 309h1v2h-1zM999 310h2v1h-2zM1001 311h1v1h-1zM1002 312h3v1h-3zM1005 313h2v1h-2zM1007 314h2v1h-2zM1009 315h2v1h-2zM1011 316h2v1h-2zM1013 317h1v2h-1zM1014 316h1v2h-1zM1015 317h1v2h-1zM1016 318h1v1h-1zM1017 317h1v1h-1zM1018 318h3v1h-3zM1021 319h1v2h-1zM1022 319h1v1h-1zM1023 320h3v1h-3zM1026 321h1v2h-1zM1027 321h1v1h-1zM1028 322h1v1h-1zM1029 321h2v1h-2zM1031 322h2v1h-2zM1033 323h3v1h-3zM1036 324h3v1h-3zM1039 325h1v1h-1zM1040 326h3v1h-3zM1043 327h2v1h-2zM1045 328h1v1h-1zM1046 329h1v2h-1zM1047 328h1v2h-1zM1048 329h2v1h-2zM1050 330h4v1h-4zM1054 331h1v2h-1zM1055 332h2v1h-2zM1057 333h3v1h-3zM1060 334h1v1h-1zM1061 335h1v1h-1zM1062 334h1v1h-1zM1063 335h2v1h-2zM1065 336h2v1h-2zM1067 337h4v1h-4zM1071 338h1v2h-1zM1072 339h2v1h-2zM1074 340h3v1h-3zM1077 341h1v1h-1zM1078 342h5v1h-5zM1083 343h1v1h-1zM1084 344h3v1h-3z"/>
<path fill="#0060ff" d="M722 355h1v1h-1zM816 321h1v1h-1zM880 299h1v1h-1zM934 296h1v1h-1zM935 297h1v1h-1zM982 303h1v1h-1zM1005 312h1v1h-1zM1043 326h1v1h-1z"/>
<path fill="#60e090" d="M724 356h1v1h-1zM904 296h1v1h-1zM905 298h1v1h-1zM906 300h1v1h-1zM964 303h1v1h-1zM970 300h1v1h-1zM1009 316h1v1h-1z"/>
<path fill="#ff8000" d="M746 348h1v1h-1zM769 340h1v1h-1zM774 337h1v1h-1zM777 336h1v1h-1zM800 326h1v1h-1zM825 317h1v1h-1zM829 315h1v1h-1zM862 305h1v1h-1zM872 301h1v1h-1zM882 300h1v1h-1zM900 297h1v1h-1zM917 296h1v1h-1zM932 297h1v1h-1zM933 298h1v1h-1zM968 299h1v1h-1zM976 302h1v1h-1zM993 307h1v1h-1zM994 308h1v1h-1zM1002 313h1v1h-1z"/>
<path fill="#0000c0" d="M837 313h1v1h-1zM947 299h2v1h-2zM959 301h1v1h-1zM960 300h1v1h-1zM967 302h1v1h-1zM968 301h1v1h-1zM1018 319h1v1h-1z"/>
<path fill="#e8e000" d="M738 350h1v1h-1zM787 332h1v1h-1zM853 307h1v1h-1zM913 298h1v1h-1zM919 299h1v1h-1zM922 297h1v1h-1zM923 299h1v1h-1zM924 298h1v1h-1zM927 296h1v1h-1zM990 306h1v1h-1z"/>
<path fill="#00c8e8" d="M737 350h1v1h-1zM780 334h1v1h-1zM784 332h1v1h-1zM789 331h1v1h-1zM811 321h1v1h-1zM821 319h1v1h-1zM866 303h1v1h-1zM867 301h1v1h-1zM881 299h1v1h-1zM895 298h1v1h-1zM955 297h1v1h-1zM1012 315h1v1h-1zM1038 323h1v1h-1zM1039 324h1v1h-1zM1040 325h1v1h-1z"/>
</g>
<g fill="#000" stroke="#000" stroke-width="1" stroke-dasharray="1 4" shape-rendering="crispEdges">
<line x1="173.5" y1="561" x2="173.5" y2="494"/>
<rect x="173" y="555" width="1" height="5" stroke="none"/>
<line x1="293.5" y1="557" x2="293.5" y2="494"/>
<rect x="293" y="555" width="1" height="5" stroke="none"/>
<line x1="413.5" y1="561" x2="413.5" y2="494"/>
<rect x="413" y="555" width="1" height="5" stroke="none"/>
<line x1="534.5" y1="557" x2="534.5" y2="494"/>
<rect x="534" y="555" width="1" height="5" stroke="none"/>
<line x1="163" y1="504.5" x2="559" y2="504.5"/>
<rect x="157" y="504" width="5" height="1" stroke="none"/>
<line x1="164" y1="524.5" x2="559" y2="524.5"/>
<rect x="157" y="524" width="5" height="1" stroke="none"/>
<line x1="165" y1="544.5" x2="559" y2="544.5"/>
<rect x="157" y="544" width="5" height="1" stroke="none"/>
</g>
<g fill="#000" shape-rendering="crispEdges">
<rect x="156" y="493" width="1" height="68"/>
<rect x="156" y="560" width="403" height="1"/>
</g>
<g shape-rendering="crispEdges">
<path fill="#c01028" d="M156 560h3v1h-3zM159 559h6v1h-6zM165 558h6v1h-6zM171 557h6v1h-6zM177 556h4v1h-4zM181 555h6v1h-6zM187 554h4v1h-4zM191 553h3v1h-3zM194 552h6v1h-6zM200 551h3v1h-3zM203 550h3v1h-3zM206 549h3v1h-3zM209 548h2v1h-2zM211 547h2v1h-2zM213 546h4v1h-4zM217 545h3v1h-3zM220 544h2v1h-2zM222 543h6v1h-6zM228 542h1v1h-1zM229 541h4v1h-4zM233 540h2v1h-2zM235 539h3v1h-3zM238 538h1v1h-1zM239 537h3v1h-3zM242 536h3v1h-3zM245 535h2v1h-2zM247 534h2v1h-2zM249 533h3v1h-3zM252 532h2v1h-2zM254 531h1v1h-1zM255 532h1v1h-1zM256 530h1v2h-1zM257 530h3v1h-3zM260 529h2v1h-2zM262 528h2v1h-2zM264 527h3v1h-3zM267 526h1v1h-1zM268 525h1v1h-1zM269 524h1v1h-1zM270 523h1v1h-1zM271 524h1v1h-1zM272 525h1v1h-1zM273 523h1v2h-1zM274 523h1v1h-1zM275 522h1v1h-1zM276 523h1v1h-1zM277 522h1v1h-1zM278 521h2v1h-2zM280 522h1v1h-1zM281 520h1v2h-1zM282 520h1v1h-1zM283 521h1v1h-1zM284 519h1v2h-1zM285 519h6v1h-6zM291 517h1v2h-1zM292 518h1v1h-1zM293 517h2v1h-2zM295 516h2v1h-2zM297 515h1v1h-1zM298 514h1v1h-1zM299 515h1v1h-1zM300 513h1v2h-1zM301 514h1v1h-1zM302 513h1v1h-1zM303 512h1v1h-1zM304 511h1v1h-1zM305 510h1v1h-1zM306 511h1v1h-1zM307 512h1v1h-1zM308 512h1v2h-1zM309 510h1v2h-1zM310 510h1v1h-1zM311 511h1v1h-1zM312 509h1v2h-1zM313 508h1v1h-1zM314 509h1v2h-1zM315 507h1v2h-1zM316 508h2v1h-2zM318 507h3v1h-3zM321 506h2v1h-2zM323 505h1v1h-1zM324 506h1v1h-1zM325 505h1v2h-1zM326 503h1v2h-1zM327 502h1v1h-1zM328 503h1v2h-1zM329 503h2v1h-2zM331 504h1v2h-1zM332 503h1v2h-1zM333 502h3v1h-3zM336 501h5v1h-5zM341 500h4v1h-4zM345 499h1v1h-1zM346 498h1v1h-1zM347 497h1v1h-1zM348 498h1v3h-1zM349 501h1v2h-1zM350 499h1v2h-1zM351 498h1v2h-1zM352 496h1v2h-1zM353 497h1v1h-1zM354 496h1v1h-1zM355 497h1v1h-1zM356 496h5v1h-5zM361 497h1v2h-1zM362 497h1v1h-1zM363 495h1v2h-1zM364 496h2v1h-2zM366 496h1v2h-1zM367 494h1v2h-1zM368 495h1v2h-1zM369 497h2v1h-2zM371 498h1v1h-1zM372 496h1v2h-1zM373 496h3v1h-3zM376 494h1v2h-1zM377 493h2v1h-2zM379 494h1v2h-1zM380 495h2v1h-2zM382 494h2v1h-2zM384 493h1v2h-1zM385 495h1v2h-1zM386 493h1v2h-1zM387 494h1v1h-1zM388 495h1v2h-1zM389 495h1v1h-1zM390 496h1v1h-1zM391 495h2v1h-2zM393 493h1v2h-1zM394 494h1v2h-1zM395 496h1v1h-1zM396 494h1v2h-1zM397 494h1v1h-1zM398 495h1v2h-1zM399 497h1v1h-1zM400 496h1v1h-1zM401 495h2v1h-2zM403 496h1v2h-1zM404 493h1v3h-1zM405 494h2v1h-2zM407 495h3v1h-3zM410 496h1v1h-1zM411 495h1v1h-1zM412 496h1v2h-1zM413 495h1v2h-1zM414 496h1v1h-1zM415 494h1v2h-1zM416 495h1v2h-1zM417 494h1v2h-1zM418 494h1v1h-1zM419 495h1v2h-1zM420 495h2v1h-2zM422 494h1v2h-1zM423 496h1v2h-1zM424 496h1v1h-1zM425 497h1v1h-1zM426 498h1v2h-1zM427 496h1v3h-1zM428 494h2v2h-2zM430 496h1v3h-1zM431 495h1v2h-1zM432 497h1v2h-1zM433 497h1v1h-1zM434 498h1v2h-1zM435 499h1v3h-1zM436 496h1v3h-1zM437 497h2v1h-2zM439 498h1v2h-1zM440 500h1v2h-1zM441 499h1v3h-1zM442 502h1v3h-1zM443 500h1v3h-1zM444 498h1v2h-1zM445 498h1v1h-1zM446 499h3v1h-3zM449 500h1v1h-1zM450 501h2v1h-2zM452 500h3v1h-3zM455 499h1v1h-1zM456 500h2v1h-2zM458 501h1v2h-1zM459 503h3v1h-3zM462 504h1v1h-1zM463 505h1v2h-1zM464 507h1v1h-1zM465 505h1v2h-1zM466 507h1v2h-1zM467 506h1v2h-1zM468 506h1v1h-1zM469 507h1v2h-1zM470 508h1v1h-1zM471 509h2v1h-2zM473 510h2v1h-2zM475 511h2v1h-2zM477 512h1v1h-1zM478 511h1v1h-1zM479 510h1v1h-1zM480 511h2v1h-2zM482 512h2v1h-2zM484 513h2v1h-2zM486 514h2v1h-2zM488 515h1v2h-1zM489 514h1v2h-1zM490 516h1v2h-1zM491 517h7v1h-7zM498 518h2v1h-2zM500 519h2v1h-2zM502 520h2v1h-2zM504 521h1v1h-1zM505 520h2v1h-2zM507 521h1v1h-1zM508 522h2v1h-2zM510 523h1v1h-1zM511 524h5v1h-5zM516 525h2v1h-2zM518 526h2v1h-2zM520 527h4v1h-4zM524 528h2v1h-2zM526 529h4v1h-4zM530 530h2v1h-2zM532 531h1v1h-1zM533 532h1v1h-1zM534 531h1v1h-1zM535 532h2v1h-2zM537 533h2v1h-2zM539 534h1v2h-1zM540 535h3v1h-3zM543 536h2v1h-2zM545 537h1v2h-1zM546 536h1v2h-1zM547 537h2v1h-2zM549 538h1v1h-1zM550 539h3v1h-3zM553 540h1v1h-1zM554 541h1v1h-1zM555 540h1v1h-1zM556 541h3v1h-3z"/>
<path fill="#60e090" d="M158 559h1v1h-1zM190 553h1v1h-1zM208 548h1v1h-1zM210 547h1v1h-1zM259 529h1v1h-1zM266 526h1v1h-1zM290 518h1v1h-1zM291 516h1v1h-1zM292 517h1v1h-1zM293 516h1v1h-1zM309 512h1v1h-1zM365 495h1v1h-1zM373 495h1v1h-1zM425 496h1v1h-1zM483 511h1v1h-1zM484 512h1v1h-1zM514 523h1v1h-1zM527 528h1v1h-1z"/>
<path fill="#ff8000" d="M202 550h1v1h-1zM226 544h1v1h-1zM229 542h1v1h-1zM304 510h1v1h-1zM341 499h1v1h-1zM343 499h1v1h-1zM364 495h1v1h-1zM366 498h1v1h-1zM367 496h1v1h-1zM371 497h1v1h-1zM385 497h1v1h-1zM386 495h1v1h-1zM428 496h1v1h-1zM436 499h1v1h-1zM438 498h1v1h-1zM444 500h1v1h-1zM449 501h1v1h-1zM455 500h1v1h-1zM478 512h1v1h-1zM479 511h1v1h-1zM522 526h1v1h-1zM558 542h1v1h-1z"/>
<path fill="#00c8e8" d="M236 540h1v1h-1zM274 524h1v1h-1zM275 523h1v1h-1zM327 503h1v1h-1zM329 504h1v1h-1zM360 497h1v1h-1zM361 499h1v1h-1zM362 498h1v1h-1zM382 495h1v1h-1zM394 496h1v1h-1zM431 497h1v1h-1zM456 501h1v1h-1zM468 507h1v1h-1zM472 510h1v1h-1z"/>
<path fill="#e8e000" d="M172 558h1v1h-1zM181 556h1v1h-1zM231 540h1v1h-1zM263 527h1v1h-1zM272 524h1v1h-1zM283 520h1v1h-1zM288 518h1v1h-1zM294 516h1v1h-1zM303 511h1v1h-1zM306 510h1v1h-1zM307 511h1v1h-1zM319 506h1v1h-1zM337 500h1v1h-1zM339 500h1v1h-1zM344 499h1v1h-1zM350 498h1v1h-1zM355 496h1v1h-1zM362 496h1v1h-1zM363 494h1v1h-1zM400 495h1v1h-1zM411 494h1v1h-1zM459 502h1v1h-1zM474 509h1v1h-1zM475 510h1v1h-1zM491 516h2v1h-2zM512 523h1v1h-1zM520 526h1v1h-1z"/>
<path fill="#0000c0" d="M321 507h1v1h-1zM462 505h1v1h-1z"/>
<path fill="#0060ff" d="M230 542h1v1h-1zM429 496h1v1h-1z"/>
</g>
<g fill="#000" stroke="#000" stroke-width="1" stroke-dasharray="1 4" shape-rendering="crispEdges">
<line x1="701.5" y1="561" x2="701.5" y2="494"/>
<rect x="701" y="555" width="1" height="5" stroke="none"/>
<line x1="821.5" y1="561" x2="821.5" y2="494"/>
<rect x="821" y="555" width="1" height="5" stroke="none"/>
<line x1="942.5" y1="557" x2="942.5" y2="494"/>
<rect x="942" y="555" width="1" height="5" stroke="none"/>
<line x1="1062.5" y1="561" x2="1062.5" y2="494"/>
<rect x="1062" y="555" width="1" height="5" stroke="none"/>
<line x1="689" y1="498.5" x2="1087" y2="498.5"/>
<rect x="685" y="498" width="5" height="1" stroke="none"/>
<line x1="690" y1="520.5" x2="1087" y2="520.5"/>
<rect x="685" y="520" width="5" height="1" stroke="none"/>
<line x1="691" y1="542.5" x2="1087" y2="542.5"/>
<rect x="685" y="542" width="5" height="1" stroke="none"/>
</g>
<g fill="#000" shape-rendering="crispEdges">
<rect x="684" y="493" width="1" height="68"/>
<rect x="684" y="560" width="403" height="1"/>
</g>
<g shape-rendering="crispEdges">
<path fill="#c01028" d="M684 560h3v1h-3zM687 559h2v1h-2zM689 560h1v1h-1zM690 559h3v1h-3zM693 558h5v1h-5zM698 557h6v1h-6zM704 556h6v1h-6zM710 555h5v1h-5zM715 554h4v1h-4zM719 553h3v1h-3zM722 552h5v1h-5zM727 551h4v1h-4zM731 550h2v1h-2zM733 549h3v1h-3zM736 548h3v1h-3zM739 547h2v1h-2zM741 546h2v1h-2zM743 545h4v1h-4zM747 544h4v1h-4zM751 543h3v1h-3zM754 542h3v1h-3zM757 541h5v1h-5zM762 540h1v1h-1zM763 539h2v1h-2zM765 538h4v1h-4zM769 536h1v2h-1zM770 536h3v1h-3zM773 535h2v1h-2zM775 533h1v2h-1zM776 534h1v1h-1zM777 533h1v1h-1zM778 532h6v1h-6zM784 531h2v1h-2zM786 530h1v1h-1zM787 529h1v1h-1zM788 530h1v1h-1zM789 528h1v2h-1zM790 528h3v1h-3zM793 527h1v1h-1zM794 528h1v1h-1zM795 526h1v2h-1zM796 524h1v2h-1zM797 525h3v1h-3zM800 524h2v1h-2zM802 523h4v1h-4zM806 522h2v1h-2zM808 521h1v1h-1zM809 520h1v1h-1zM810 521h1v1h-1zM811 520h3v1h-3zM814 519h1v1h-1zM815 518h1v1h-1zM816 519h1v2h-1zM817 519h1v1h-1zM818 518h1v1h-1zM819 517h1v1h-1zM820 516h1v1h-1zM821 517h2v1h-2zM823 515h1v2h-1zM824 515h1v1h-1zM825 516h1v1h-1zM826 514h1v2h-1zM827 515h1v1h-1zM828 514h1v1h-1zM829 513h1v1h-1zM830 514h1v2h-1zM831 514h1v1h-1zM832 512h1v2h-1zM833 512h2v1h-2zM835 510h1v2h-1zM836 510h6v1h-6zM842 508h1v2h-1zM843 507h1v2h-1zM844 509h1v2h-1zM845 507h1v3h-1zM846 505h1v2h-1zM847 506h1v1h-1zM848 505h1v1h-1zM849 506h1v1h-1zM850 504h1v2h-1zM851 503h1v1h-1zM852 504h1v2h-1zM853 503h1v2h-1zM854 504h1v1h-1zM855 503h1v1h-1zM856 504h2v1h-2zM858 504h1v2h-1zM859 502h1v2h-1zM860 503h1v1h-1zM861 501h1v2h-1zM862 502h1v2h-1zM863 503h2v1h-2zM865 502h1v1h-1zM866 503h1v1h-1zM867 501h1v2h-1zM868 503h1v2h-1zM869 500h1v3h-1zM870 500h1v1h-1zM871 501h1v1h-1zM872 499h1v2h-1zM873 499h1v1h-1zM874 500h1v1h-1zM875 498h1v2h-1zM876 498h1v1h-1zM877 497h1v3h-1zM878 500h1v3h-1zM879 500h1v2h-1zM880 498h1v2h-1zM881 498h1v1h-1zM882 497h1v1h-1zM883 498h1v1h-1zM884 496h1v2h-1zM885 497h2v1h-2zM887 496h1v2h-1zM888 494h1v2h-1zM889 495h1v2h-1zM890 497h2v1h-2zM892 495h1v2h-1zM893 496h2v1h-2zM895 495h1v2h-1zM896 497h1v3h-1zM897 494h1v3h-1zM898 494h1v2h-1zM899 496h1v2h-1zM900 497h1v1h-1zM901 496h1v1h-1zM902 497h1v2h-1zM903 495h1v2h-1zM904 494h1v1h-1zM905 495h1v2h-1zM906 495h2v1h-2zM908 493h1v2h-1zM909 495h1v2h-1zM910 495h1v1h-1zM911 496h1v1h-1zM912 497h1v2h-1zM913 496h1v2h-1zM914 494h1v2h-1zM915 495h1v1h-1zM916 493h1v2h-1zM917 494h2v1h-2zM919 495h2v1h-2zM921 496h1v1h-1zM922 497h1v1h-1zM923 495h1v2h-1zM924 495h1v1h-1zM925 494h1v2h-1zM926 496h1v2h-1zM927 497h2v1h-2zM929 496h1v1h-1zM930 497h1v1h-1zM931 495h1v2h-1zM932 495h1v1h-1zM933 496h1v1h-1zM934 495h1v1h-1zM935 496h1v1h-1zM936 495h1v1h-1zM937 494h1v1h-1zM938 493h1v1h-1zM939 494h1v1h-1zM940 495h1v2h-1zM941 496h1v1h-1zM942 497h2v1h-2zM944 495h1v2h-1zM945 493h1v2h-1zM946 495h1v3h-1zM947 497h1v2h-1zM948 495h1v2h-1zM949 496h1v1h-1zM950 495h1v1h-1zM951 496h2v1h-2zM953 497h1v2h-1zM954 496h1v2h-1zM955 496h1v1h-1zM956 497h1v2h-1zM957 497h1v1h-1zM958 498h1v1h-1zM959 497h2v1h-2zM961 498h1v1h-1zM962 499h1v2h-1zM963 501h1v2h-1zM964 499h1v2h-1zM965 499h1v1h-1zM966 498h2v1h-2zM968 499h1v1h-1zM969 500h1v1h-1zM970 501h1v2h-1zM971 500h1v2h-1zM972 499h5v1h-5zM977 498h1v1h-1zM978 499h1v2h-1zM979 499h1v1h-1zM980 500h1v1h-1zM981 501h1v1h-1zM982 502h1v1h-1zM983 501h1v1h-1zM984 500h1v1h-1zM985 501h1v1h-1zM986 502h2v1h-2zM988 503h1v2h-1zM989 503h1v1h-1zM990 504h1v2h-1zM991 506h1v1h-1zM992 505h2v1h-2zM994 506h1v2h-1zM995 508h1v1h-1zM996 507h1v1h-1zM997 508h3v1h-3zM1000 509h1v1h-1zM1001 508h1v1h-1zM1002 509h1v1h-1zM1003 510h1v1h-1zM1004 511h4v1h-4zM1008 512h1v1h-1zM1009 513h2v1h-2zM1011 512h1v1h-1zM1012 513h1v2h-1zM1013 513h1v1h-1zM1014 514h2v1h-2zM1016 515h1v2h-1zM1017 515h1v1h-1zM1018 516h6v1h-6zM1024 517h2v1h-2zM1026 518h1v1h-1zM1027 519h2v1h-2zM1029 520h1v1h-1zM1030 519h2v1h-2zM1032 520h3v1h-3zM1035 521h2v1h-2zM1037 522h2v1h-2zM1039 523h1v1h-1zM1040 524h1v1h-1zM1041 525h1v1h-1zM1042 524h1v1h-1zM1043 525h4v1h-4zM1047 526h3v1h-3zM1050 527h1v2h-1zM1051 528h1v1h-1zM1052 529h3v1h-3zM1055 530h1v1h-1zM1056 529h1v2h-1zM1057 531h1v2h-1zM1058 531h2v1h-2zM1060 532h1v1h-1zM1061 531h1v1h-1zM1062 532h2v1h-2zM1064 533h2v1h-2zM1066 534h3v1h-3zM1069 535h3v1h-3zM1072 536h2v1h-2zM1074 537h3v1h-3zM1077 538h2v1h-2zM1079 539h2v1h-2zM1081 540h3v1h-3zM1084 541h1v1h-1zM1085 542h1v1h-1zM1086 541h1v1h-1z"/>
<path fill="#ff8000" d="M693 559h1v1h-1zM728 552h1v1h-1zM770 537h1v1h-1zM814 520h1v1h-1zM815 519h1v1h-1zM820 517h1v1h-1zM870 501h1v1h-1zM878 503h1v1h-1zM893 497h1v1h-1zM897 497h1v1h-1zM921 495h1v1h-1zM922 496h1v1h-1zM928 498h1v1h-1zM929 497h1v1h-1zM962 501h1v1h-1zM963 503h1v1h-1zM964 501h1v1h-1zM973 500h1v1h-1zM977 499h1v1h-1zM987 503h1v1h-1zM989 504h1v1h-1zM993 506h1v1h-1zM994 508h1v1h-1zM1011 513h1v1h-1zM1019 517h2v1h-2zM1030 520h1v1h-1zM1076 538h1v1h-1z"/>
<path fill="#0060ff" d="M746 546h1v1h-1zM747 545h1v1h-1zM834 511h1v1h-1zM844 508h1v1h-1z"/>
<path fill="#e8e000" d="M755 543h1v1h-1zM938 494h1v1h-1zM939 493h1v1h-1zM940 494h1v1h-1zM955 497h1v1h-1zM956 499h1v1h-1zM957 498h1v1h-1zM974 498h1v1h-1zM995 509h1v1h-1zM996 508h1v1h-1zM1001 509h1v1h-1z"/>
<path fill="#60e090" d="M785 530h1v1h-1zM798 524h1v1h-1zM803 522h1v1h-1zM838 509h1v1h-1zM849 505h1v1h-1zM850 503h1v1h-1zM854 503h1v1h-1zM863 502h1v1h-1zM864 504h1v1h-1zM865 503h1v1h-1zM866 502h1v1h-1zM867 500h1v1h-1zM868 502h1v1h-1zM876 497h1v1h-1zM882 496h1v1h-1zM883 497h1v1h-1zM890 496h1v1h-1zM895 494h1v1h-1zM915 494h1v1h-1zM927 496h1v1h-1zM930 496h1v1h-1zM943 496h1v1h-1zM951 495h2v1h-2zM955 495h1v1h-1zM983 500h1v1h-1zM1002 508h1v1h-1zM1003 509h1v1h-1zM1027 518h1v1h-1z"/>
<path fill="#0000c0" d="M802 524h1v1h-1zM807 523h1v1h-1zM808 522h1v1h-1zM891 498h1v1h-1zM892 497h1v1h-1zM903 494h1v1h-1zM904 495h1v1h-1zM1023 517h1v1h-1z"/>
<path fill="#00c8e8" d="M846 507h1v1h-1zM1021 515h1v1h-1zM1056 528h1v1h-1zM1057 530h1v1h-1z"/>
</g>
<g fill="#000" stroke="#000" stroke-width="1" stroke-dasharray="1 4" shape-rendering="crispEdges">
<line x1="173.5" y1="758" x2="173.5" y2="691"/>
<rect x="173" y="752" width="1" height="5" stroke="none"/>
<line x1="293.5" y1="754" x2="293.5" y2="691"/>
<rect x="293" y="752" width="1" height="5" stroke="none"/>
<line x1="413.5" y1="758" x2="413.5" y2="691"/>
<rect x="413" y="752" width="1" height="5" stroke="none"/>
<line x1="534.5" y1="754" x2="534.5" y2="691"/>
<rect x="534" y="752" width="1" height="5" stroke="none"/>
<line x1="164" y1="691.5" x2="559" y2="691.5"/>
<rect x="157" y="691" width="5" height="1" stroke="none"/>
<line x1="165" y1="701.5" x2="559" y2="701.5"/>
<rect x="157" y="701" width="5" height="1" stroke="none"/>
<line x1="161" y1="711.5" x2="559" y2="711.5"/>
<rect x="157" y="711" width="5" height="1" stroke="none"/>
<line x1="162" y1="721.5" x2="559" y2="721.5"/>
<rect x="157" y="721" width="5" height="1" stroke="none"/>
<line x1="163" y1="731.5" x2="559" y2="731.5"/>
<rect x="157" y="731" width="5" height="1" stroke="none"/>
<line x1="164" y1="741.5" x2="559" y2="741.5"/>
<rect x="157" y="741" width="5" height="1" stroke="none"/>
<line x1="165" y1="751.5" x2="559" y2="751.5"/>
<rect x="157" y="751" width="5" height="1" stroke="none"/>
</g>
<g fill="#000" shape-rendering="crispEdges">
<rect x="156" y="690" width="1" height="68"/>
<rect x="156" y="757" width="403" height="1"/>
</g>
<g shape-rendering="crispEdges">
<path fill="#c01028" d="M156 757h3v1h-3zM159 756h5v1h-5zM164 755h7v1h-7zM171 754h4v1h-4zM175 753h7v1h-7zM182 752h4v1h-4zM186 751h5v1h-5zM191 750h4v1h-4zM195 749h4v1h-4zM199 748h4v1h-4zM203 747h2v1h-2zM205 746h4v1h-4zM209 745h1v1h-1zM210 744h1v1h-1zM211 745h2v1h-2zM213 743h1v2h-1zM214 743h2v1h-2zM216 742h4v1h-4zM220 741h3v1h-3zM223 740h4v1h-4zM227 739h3v1h-3zM230 738h2v1h-2zM232 737h2v1h-2zM234 738h1v1h-1zM235 737h1v1h-1zM236 736h2v1h-2zM238 735h3v1h-3zM241 734h1v1h-1zM242 733h3v1h-3zM245 732h2v1h-2zM247 732h1v2h-1zM248 730h1v2h-1zM249 730h4v1h-4zM253 729h1v1h-1zM254 728h1v1h-1zM255 729h1v1h-1zM256 727h1v2h-1zM257 728h1v1h-1zM258 727h2v1h-2zM260 726h1v1h-1zM261 725h2v1h-2zM263 724h1v1h-1zM264 725h1v2h-1zM265 724h1v2h-1zM266 723h2v1h-2zM268 722h4v1h-4zM272 721h2v1h-2zM274 720h2v1h-2zM276 719h2v1h-2zM278 718h1v1h-1zM279 719h2v1h-2zM281 718h2v1h-2zM283 717h1v1h-1zM284 715h1v2h-1zM285 715h1v1h-1zM286 714h1v1h-1zM287 715h1v1h-1zM288 716h1v1h-1zM289 715h1v1h-1zM290 713h1v2h-1zM291 713h4v1h-4zM295 712h3v1h-3zM298 711h1v1h-1zM299 712h1v1h-1zM300 710h1v2h-1zM301 711h1v1h-1zM302 710h1v1h-1zM303 709h2v1h-2zM305 708h2v1h-2zM307 709h1v1h-1zM308 710h1v1h-1zM309 708h1v2h-1zM310 708h1v1h-1zM311 707h1v1h-1zM312 708h1v2h-1zM313 706h1v2h-1zM314 704h1v2h-1zM315 704h1v1h-1zM316 705h1v1h-1zM317 705h1v2h-1zM318 703h1v2h-1zM319 704h1v1h-1zM320 703h1v1h-1zM321 704h1v1h-1zM322 703h1v1h-1zM323 704h1v1h-1zM324 702h1v2h-1zM325 703h1v1h-1zM326 702h1v1h-1zM327 701h1v1h-1zM328 701h1v2h-1zM329 699h1v2h-1zM330 700h3v1h-3zM333 699h1v2h-1zM334 701h1v3h-1zM335 700h1v2h-1zM336 698h1v2h-1zM337 699h1v1h-1zM338 697h1v2h-1zM339 698h1v2h-1zM340 700h1v1h-1zM341 700h1v2h-1zM342 698h2v2h-2zM344 696h1v2h-1zM345 697h1v1h-1zM346 696h1v1h-1zM347 695h2v1h-2zM349 696h1v1h-1zM350 694h1v2h-1zM351 694h1v1h-1zM352 695h2v1h-2zM354 695h1v2h-1zM355 692h1v3h-1zM356 693h1v2h-1zM357 694h2v1h-2zM359 695h1v2h-1zM360 695h1v1h-1zM361 696h1v1h-1zM362 694h1v2h-1zM363 692h1v2h-1zM364 693h1v2h-1zM365 695h2v2h-2zM367 693h1v2h-1zM368 693h1v1h-1zM369 692h1v1h-1zM370 693h1v1h-1zM371 692h1v1h-1zM372 692h1v3h-1zM373 695h1v3h-1zM374 693h1v3h-1zM375 692h2v1h-2zM377 693h2v1h-2zM379 691h1v2h-1zM380 692h2v1h-2zM382 691h1v1h-1zM383 692h1v2h-1zM384 690h1v2h-1zM385 691h1v2h-1zM386 693h1v2h-1zM387 692h1v2h-1zM388 692h1v1h-1zM389 693h1v1h-1zM390 694h1v1h-1zM391 692h1v2h-1zM392 692h2v1h-2zM394 691h1v2h-1zM395 693h1v2h-1zM396 693h2v1h-2zM398 693h1v2h-1zM399 691h1v2h-1zM400 691h1v1h-1zM401 690h1v2h-1zM402 692h1v2h-1zM403 692h1v1h-1zM404 691h1v2h-1zM405 693h1v2h-1zM406 691h1v2h-1zM407 693h1v3h-1zM408 692h1v2h-1zM409 693h2v1h-2zM411 694h3v1h-3zM414 692h1v2h-1zM415 693h1v1h-1zM416 694h1v1h-1zM417 695h1v1h-1zM418 694h1v1h-1zM419 693h1v1h-1zM420 691h1v2h-1zM421 692h1v2h-1zM422 694h2v1h-2zM424 695h1v1h-1zM425 696h1v1h-1zM426 694h1v2h-1zM427 694h1v1h-1zM428 695h1v1h-1zM429 693h1v2h-1zM430 694h1v1h-1zM431 695h1v2h-1zM432 696h2v1h-2zM434 697h1v1h-1zM435 697h1v2h-1zM436 699h1v2h-1zM437 697h1v2h-1zM438 698h1v1h-1zM439 697h2v1h-2zM441 695h1v2h-1zM442 697h1v4h-1zM443 701h1v2h-1zM444 700h1v2h-1zM445 699h1v1h-1zM446 697h1v2h-1zM447 698h1v1h-1zM448 699h1v1h-1zM449 698h1v1h-1zM450 699h2v1h-2zM452 698h1v1h-1zM453 699h1v1h-1zM454 700h1v2h-1zM455 699h1v2h-1zM456 700h2v1h-2zM458 701h1v1h-1zM459 701h1v2h-1zM460 703h1v2h-1zM461 702h1v2h-1zM462 703h1v2h-1zM463 705h1v1h-1zM464 703h1v2h-1zM465 704h1v2h-1zM466 706h3v1h-3zM469 706h1v2h-1zM470 708h1v3h-1zM471 707h1v2h-1zM472 706h1v2h-1zM473 708h1v2h-1zM474 707h1v2h-1zM475 708h2v1h-2zM477 709h1v1h-1zM478 710h1v2h-1zM479 709h1v2h-1zM480 710h1v2h-1zM481 709h1v2h-1zM482 711h1v3h-1zM483 714h1v2h-1zM484 711h1v3h-1zM485 712h3v1h-3zM488 713h1v2h-1zM489 714h2v1h-2zM491 715h2v1h-2zM493 714h1v1h-1zM494 715h1v2h-1zM495 715h2v1h-2zM497 716h1v1h-1zM498 715h1v1h-1zM499 716h2v1h-2zM501 717h2v1h-2zM503 717h1v2h-1zM504 719h1v2h-1zM505 719h1v1h-1zM506 718h1v1h-1zM507 719h1v2h-1zM508 720h3v1h-3zM511 721h1v1h-1zM512 720h1v1h-1zM513 721h1v1h-1zM514 722h1v1h-1zM515 723h3v1h-3zM518 723h1v2h-1zM519 725h1v2h-1zM520 724h1v2h-1zM521 725h1v1h-1zM522 726h1v2h-1zM523 726h1v1h-1zM524 727h2v1h-2zM526 728h2v1h-2zM528 727h1v1h-1zM529 728h1v1h-1zM530 729h2v1h-2zM532 730h1v2h-1zM533 730h2v1h-2zM535 731h1v1h-1zM536 732h2v1h-2zM538 733h5v1h-5zM543 734h1v2h-1zM544 735h2v1h-2zM546 736h1v1h-1zM547 735h1v1h-1zM548 736h2v1h-2zM550 737h1v1h-1zM551 738h3v1h-3zM554 739h4v1h-4zM558 740h1v1h-1z"/>
<path fill="#0000c0" d="M174 753h1v1h-1zM248 732h1v1h-1zM375 693h1v1h-1zM418 695h1v1h-1zM419 694h1v1h-1zM423 693h1v1h-1zM445 700h1v1h-1zM456 701h1v1h-1zM467 707h1v1h-1zM528 728h1v1h-1z"/>
<path fill="#e8e000" d="M240 734h1v1h-1zM243 732h1v1h-1zM255 728h1v1h-1zM257 727h1v1h-1zM259 726h1v1h-1zM265 723h1v1h-1zM267 722h1v1h-1zM285 714h1v1h-1zM302 709h1v1h-1zM305 707h1v1h-1zM308 709h1v1h-1zM309 707h1v1h-1zM318 702h1v1h-1zM323 703h1v1h-1zM326 701h1v1h-1zM328 700h1v1h-1zM329 698h1v1h-1zM330 699h1v1h-1zM332 699h1v1h-1zM337 698h1v1h-1zM341 699h1v1h-1zM342 697h1v1h-1zM346 695h1v1h-1zM360 694h1v1h-1zM361 695h1v1h-1zM368 692h1v1h-1zM374 692h1v1h-1zM385 690h1v1h-1zM386 692h1v1h-1zM388 691h1v1h-1zM389 692h1v1h-1zM391 691h1v1h-1zM402 694h1v1h-1zM403 691h1v1h-1zM411 693h2v1h-2zM415 692h1v1h-1zM416 693h1v1h-1zM417 694h1v1h-1zM422 693h1v1h-1zM424 694h1v1h-1zM425 695h1v1h-1zM434 696h1v1h-1zM438 697h1v1h-1zM439 696h2v1h-2zM441 694h1v1h-1zM442 696h1v1h-1zM444 699h1v1h-1zM447 697h1v1h-1zM460 702h1v1h-1zM461 701h1v1h-1zM462 702h1v1h-1zM470 707h1v1h-1zM475 707h1v1h-1zM483 713h1v1h-1zM485 711h1v1h-1zM487 711h1v1h-1zM491 714h2v1h-2zM497 715h1v1h-1zM511 720h1v1h-1zM524 726h1v1h-1zM536 731h1v1h-1zM548 735h1v1h-1zM551 737h1v1h-1zM554 738h1v1h-1zM558 739h1v1h-1z"/>
<path fill="#ff8000" d="M280 718h1v1h-1zM287 714h1v1h-1zM288 715h1v1h-1zM301 710h1v1h-1zM310 707h1v1h-1zM319 703h1v1h-1zM321 703h1v1h-1zM331 699h1v1h-1zM333 698h1v1h-1zM339 700h1v1h-1zM349 695h1v1h-1zM351 693h1v1h-1zM352 694h1v1h-1zM365 694h1v1h-1zM370 694h1v1h-1zM371 691h1v1h-1zM378 692h1v1h-1zM379 690h1v1h-1zM380 691h1v1h-1zM390 693h1v1h-1zM395 692h1v1h-1zM405 692h1v1h-1zM413 693h1v1h-1zM419 692h1v1h-1zM420 690h1v1h-1zM428 694h1v1h-1zM429 692h1v1h-1zM430 693h1v1h-1zM435 696h1v1h-1zM436 698h1v1h-1zM443 700h1v1h-1zM448 698h1v1h-1zM449 697h1v1h-1zM450 698h1v1h-1zM457 699h1v1h-1zM458 700h1v1h-1zM463 704h1v1h-1zM468 705h2v1h-2zM477 708h1v1h-1zM478 709h1v1h-1zM503 716h1v1h-1zM504 718h1v1h-1zM506 719h1v1h-1zM508 719h1v1h-1zM529 729h1v1h-1zM550 736h1v1h-1zM551 739h1v1h-1zM552 737h1v1h-1z"/>
<path fill="#0060ff" d="M246 731h1v1h-1zM292 714h1v1h-1zM362 693h1v1h-1zM373 698h1v1h-1zM393 693h1v1h-1zM396 692h1v1h-1zM398 692h1v1h-1zM399 690h1v1h-1zM451 698h1v1h-1zM471 706h1v1h-1z"/>
<path fill="#60e090" d="M216 743h1v1h-1zM241 735h1v1h-1zM242 734h1v1h-1zM266 724h1v1h-1zM276 720h1v1h-1zM315 705h1v1h-1zM316 704h1v1h-1zM320 704h1v1h-1zM327 702h1v1h-1zM348 696h1v1h-1zM353 696h1v1h-1zM377 694h1v1h-1zM382 692h1v1h-1zM392 693h1v1h-1zM397 694h1v1h-1zM403 693h1v1h-1zM406 693h1v1h-1zM464 702h1v1h-1zM465 706h1v1h-1zM500 717h1v1h-1zM531 730h1v1h-1z"/>
<path fill="#00c8e8" d="M279 720h1v1h-1zM313 708h1v1h-1zM333 701h1v1h-1zM334 704h1v1h-1zM335 702h1v1h-1zM371 693h1v1h-1zM376 693h1v1h-1zM378 694h1v1h-1zM384 692h1v1h-1zM428 696h1v1h-1zM430 695h1v1h-1zM436 701h1v1h-1zM437 699h1v1h-1zM499 717h1v1h-1zM501 718h1v1h-1zM504 721h1v1h-1zM505 720h1v1h-1zM521 724h1v1h-1z"/>
</g>
<g fill="#000" stroke="#000" stroke-width="1" stroke-dasharray="1 4" shape-rendering="crispEdges">
<line x1="701.5" y1="758" x2="701.5" y2="691"/>
<rect x="701" y="752" width="1" height="5" stroke="none"/>
<line x1="821.5" y1="758" x2="821.5" y2="691"/>
<rect x="821" y="752" width="1" height="5" stroke="none"/>
<line x1="942.5" y1="754" x2="942.5" y2="691"/>
<rect x="942" y="752" width="1" height="5" stroke="none"/>
<line x1="1062.5" y1="758" x2="1062.5" y2="691"/>
<rect x="1062" y="752" width="1" height="5" stroke="none"/>
<line x1="690" y1="707.5" x2="1087" y2="707.5"/>
<rect x="685" y="707" width="5" height="1" stroke="none"/>
<line x1="691" y1="725.5" x2="1087" y2="725.5"/>
<rect x="685" y="725" width="5" height="1" stroke="none"/>
<line x1="692" y1="743.5" x2="1087" y2="743.5"/>
<rect x="685" y="743" width="5" height="1" stroke="none"/>
</g>
<g fill="#000" shape-rendering="crispEdges">
<rect x="684" y="690" width="1" height="68"/>
<rect x="684" y="757" width="403" height="1"/>
</g>
<g shape-rendering="crispEdges">
<path fill="#c01028" d="M684 757h1v1h-1zM685 756h1v1h-1zM686 757h2v1h-2zM688 756h5v1h-5zM693 755h5v1h-5zM698 754h1v1h-1zM699 755h1v1h-1zM700 754h4v1h-4zM704 753h5v1h-5zM709 752h2v1h-2zM711 753h1v1h-1zM712 752h3v1h-3zM715 751h2v1h-2zM717 752h1v1h-1zM718 750h1v2h-1zM719 751h2v1h-2zM721 750h4v1h-4zM725 749h2v1h-2zM727 748h1v1h-1zM728 749h1v1h-1zM729 748h1v1h-1zM730 749h1v1h-1zM731 748h1v1h-1zM732 747h3v1h-3zM735 746h1v1h-1zM736 745h4v1h-4zM740 744h1v1h-1zM741 743h1v1h-1zM742 744h1v1h-1zM743 743h1v1h-1zM744 742h1v2h-1zM745 739h1v3h-1zM746 740h1v2h-1zM747 742h1v1h-1zM748 741h2v1h-2zM750 742h1v1h-1zM751 741h3v1h-3zM754 740h2v1h-2zM756 739h4v1h-4zM760 738h1v1h-1zM761 737h6v1h-6zM767 736h1v1h-1zM768 735h1v1h-1zM769 734h1v1h-1zM770 735h2v1h-2zM772 734h1v1h-1zM773 733h2v1h-2zM775 731h1v2h-1zM776 732h1v1h-1zM777 731h2v1h-2zM779 730h1v1h-1zM780 731h1v1h-1zM781 730h2v1h-2zM783 729h1v1h-1zM784 730h1v1h-1zM785 730h1v2h-1zM786 728h1v2h-1zM787 727h4v1h-4zM791 725h1v2h-1zM792 725h1v1h-1zM793 724h1v1h-1zM794 725h2v1h-2zM796 724h1v1h-1zM797 723h3v1h-3zM800 722h2v1h-2zM802 721h1v1h-1zM803 721h1v2h-1zM804 722h1v3h-1zM805 719h1v3h-1zM806 720h2v1h-2zM808 719h1v1h-1zM809 720h1v2h-1zM810 718h1v2h-1zM811 717h2v1h-2zM813 716h1v1h-1zM814 717h3v1h-3zM817 715h1v2h-1zM818 715h1v1h-1zM819 716h1v2h-1zM820 715h1v2h-1zM821 716h1v1h-1zM822 714h1v2h-1zM823 714h1v1h-1zM824 713h1v1h-1zM825 714h1v1h-1zM826 713h1v1h-1zM827 712h1v1h-1zM828 710h1v2h-1zM829 711h1v1h-1zM830 712h1v1h-1zM831 710h1v2h-1zM832 710h1v1h-1zM833 711h1v1h-1zM834 712h1v1h-1zM835 710h1v2h-1zM836 711h1v2h-1zM837 710h1v2h-1zM838 709h1v1h-1zM839 707h1v2h-1zM840 709h1v2h-1zM841 709h1v1h-1zM842 707h1v2h-1zM843 707h1v1h-1zM844 706h1v1h-1zM845 707h1v2h-1zM846 708h1v1h-1zM847 706h1v2h-1zM848 705h1v1h-1zM849 704h1v1h-1zM850 705h3v1h-3zM853 703h1v2h-1zM854 705h1v2h-1zM855 703h1v2h-1zM856 704h1v2h-1zM857 705h1v1h-1zM858 703h1v2h-1zM859 701h1v2h-1zM860 699h1v2h-1zM861 700h1v1h-1zM862 701h1v1h-1zM863 702h1v2h-1zM864 700h1v2h-1zM865 702h1v2h-1zM866 700h1v2h-1zM867 699h1v1h-1zM868 700h1v1h-1zM869 701h1v2h-1zM870 701h1v1h-1zM871 701h1v2h-1zM872 698h1v3h-1zM873 698h1v1h-1zM874 697h1v2h-1zM875 699h1v2h-1zM876 700h1v1h-1zM877 701h1v2h-1zM878 698h1v3h-1zM879 698h1v2h-1zM880 696h1v2h-1zM881 697h1v1h-1zM882 696h1v1h-1zM883 697h1v1h-1zM884 695h1v2h-1zM885 696h1v2h-1zM886 698h1v1h-1zM887 696h1v2h-1zM888 693h1v3h-1zM889 694h1v2h-1zM890 696h1v2h-1zM891 695h1v2h-1zM892 694h1v1h-1zM893 695h1v2h-1zM894 696h1v1h-1zM895 695h1v2h-1zM896 693h1v3h-1zM897 696h1v4h-1zM898 691h1v5h-1zM899 694h1v4h-1zM900 694h1v2h-1zM901 695h1v2h-1zM902 697h1v1h-1zM903 696h2v1h-2zM905 695h1v1h-1zM906 693h1v2h-1zM907 694h1v2h-1zM908 695h1v1h-1zM909 693h1v2h-1zM910 694h2v1h-2zM912 695h1v1h-1zM913 696h2v1h-2zM915 694h1v2h-1zM916 692h1v2h-1zM917 694h2v2h-2zM919 696h1v3h-1zM920 694h1v3h-1zM921 692h1v2h-1zM922 693h1v1h-1zM923 692h1v2h-1zM924 694h1v2h-1zM925 695h3v1h-3zM928 694h3v1h-3zM931 695h1v2h-1zM932 694h2v2h-2zM934 696h1v3h-1zM935 695h1v2h-1zM936 693h1v2h-1zM937 695h1v2h-1zM938 696h1v1h-1zM939 697h2v1h-2zM941 696h1v1h-1zM942 695h3v1h-3zM945 696h1v3h-1zM946 699h1v3h-1zM947 695h1v4h-1zM948 695h2v1h-2zM950 696h1v3h-1zM951 699h1v3h-1zM952 696h1v3h-1zM953 695h1v1h-1zM954 694h1v1h-1zM955 695h1v1h-1zM956 695h1v2h-1zM957 697h1v2h-1zM958 698h3v1h-3zM961 697h1v2h-1zM962 699h1v2h-1zM963 697h1v2h-1zM964 696h1v4h-1zM965 700h1v5h-1zM966 696h1v5h-1zM967 698h1v2h-1zM968 699h1v1h-1zM969 700h1v1h-1zM970 698h1v2h-1zM971 700h1v2h-1zM972 700h1v1h-1zM973 700h1v2h-1zM974 698h1v2h-1zM975 699h1v1h-1zM976 699h1v2h-1zM977 701h1v2h-1zM978 703h1v2h-1zM979 701h1v2h-1zM980 702h1v1h-1zM981 700h1v2h-1zM982 701h1v1h-1zM983 702h1v1h-1zM984 703h1v2h-1zM985 702h1v2h-1zM986 703h1v2h-1zM987 705h1v2h-1zM988 703h1v2h-1zM989 705h1v2h-1zM990 707h1v1h-1zM991 705h1v2h-1zM992 706h1v1h-1zM993 707h2v1h-2zM995 706h1v1h-1zM996 707h1v1h-1zM997 708h2v1h-2zM999 709h1v1h-1zM1000 710h1v1h-1zM1001 711h1v1h-1zM1002 712h1v1h-1zM1003 713h2v1h-2zM1005 711h1v2h-1zM1006 711h1v1h-1zM1007 712h1v1h-1zM1008 713h1v1h-1zM1009 714h1v2h-1zM1010 713h1v2h-1zM1011 714h1v1h-1zM1012 715h2v1h-2zM1014 716h3v1h-3zM1017 717h1v2h-1zM1018 717h1v1h-1zM1019 716h1v1h-1zM1020 716h1v2h-1zM1021 718h1v2h-1zM1022 718h2v1h-2zM1024 719h1v1h-1zM1025 720h1v1h-1zM1026 719h2v1h-2zM1028 720h2v1h-2zM1030 721h1v1h-1zM1031 720h1v1h-1zM1032 721h1v1h-1zM1033 722h1v1h-1zM1034 721h1v1h-1zM1035 722h1v1h-1zM1036 723h1v2h-1zM1037 723h1v1h-1zM1038 724h3v1h-3zM1041 725h1v1h-1zM1042 726h1v1h-1zM1043 725h1v1h-1zM1044 726h1v2h-1zM1045 727h1v1h-1zM1046 726h1v1h-1zM1047 727h1v2h-1zM1048 728h3v1h-3zM1051 729h2v1h-2zM1053 728h1v1h-1zM1054 729h1v1h-1zM1055 730h1v2h-1zM1056 731h2v1h-2zM1058 732h2v1h-2zM1060 731h1v1h-1zM1061 732h1v1h-1zM1062 733h2v1h-2zM1064 732h1v1h-1zM1065 733h1v2h-1zM1066 734h3v1h-3zM1069 735h1v2h-1zM1070 736h3v1h-3zM1073 737h1v2h-1zM1074 737h2v1h-2zM1076 738h1v1h-1zM1077 739h1v1h-1zM1078 738h1v1h-1zM1079 739h1v2h-1zM1080 739h2v1h-2zM1082 740h2v1h-2zM1084 741h1v1h-1zM1085 742h1v1h-1zM1086 741h1v1h-1z"/>
<path fill="#60e090" d="M686 756h1v1h-1zM719 750h1v1h-1zM723 749h1v1h-1zM731 747h1v1h-1zM740 743h1v1h-1zM756 738h1v1h-1zM758 738h1v1h-1zM760 737h1v1h-1zM771 733h1v1h-1zM777 730h1v1h-1zM784 728h2v1h-2zM786 726h1v1h-1zM791 723h2v1h-2zM797 721h1v1h-1zM802 719h1v1h-1zM803 718h1v2h-1zM804 720h1v1h-1zM808 717h1v1h-1zM810 716h2v1h-2zM812 715h1v1h-1zM813 714h1v1h-1zM814 715h1v1h-1zM815 714h1v1h-1zM816 715h1v1h-1zM822 713h1v1h-1zM823 712h1v1h-1zM826 710h1v1h-1zM827 709h1v1h-1zM828 708h1v1h-1zM831 708h1v1h-1zM835 708h1v1h-1zM836 709h1v1h-1zM838 706h1v1h-1zM839 705h1v1h-1zM844 704h1v1h-1zM847 704h1v1h-1zM848 703h1v1h-1zM849 702h1v1h-1zM850 703h1v1h-1zM853 701h1v1h-1zM857 702h1v1h-1zM858 700h1v1h-1zM862 699h1v1h-1zM866 697h1v1h-1zM867 696h1v1h-1zM868 697h1v1h-1zM873 695h1v1h-1zM874 694h1v1h-1zM875 695h1v1h-1zM876 696h1v1h-1zM882 694h1v1h-1zM886 695h1v1h-1zM887 693h1v1h-1zM888 691h1v1h-1zM889 692h1v1h-1zM890 694h1v1h-1zM891 692h1v1h-1zM894 694h1v1h-1zM898 690h1v1h-1zM899 692h1v1h-1zM902 694h1v1h-1zM903 692h1v2h-1zM904 693h2v1h-2zM906 691h4v1h-4zM912 690h1v1h-1zM913 691h1v2h-1zM914 692h1v1h-1zM915 691h1v1h-1zM919 693h1v1h-1zM920 691h1v1h-1zM923 690h1v1h-1zM924 691h1v2h-1zM925 692h1v1h-1zM931 692h1v1h-1zM935 693h1v1h-1zM936 691h1v1h-1zM937 692h1v1h-1zM940 693h1v1h-1zM942 693h1v1h-1zM943 692h1v1h-1zM947 692h1v1h-1zM948 691h1v1h-1zM949 692h1v1h-1zM950 693h1v1h-1zM955 691h1v1h-1zM956 692h1v1h-1zM958 696h1v1h-1zM959 695h1v1h-1zM960 694h1v1h-1zM963 694h1v1h-1zM964 693h1v2h-1zM965 697h1v1h-1zM967 695h2v1h-2zM969 696h1v1h-1zM970 695h1v1h-1zM972 698h1v1h-1zM976 696h1v1h-1zM977 698h1v1h-1zM978 701h1v1h-1zM979 699h1v1h-1zM983 699h1v2h-1zM986 701h1v1h-1zM987 702h1v2h-1zM990 704h1v1h-1zM991 702h1v1h-1zM993 704h1v1h-1zM994 705h1v1h-1zM995 703h1v1h-1zM996 704h2v1h-2zM1003 710h2v1h-2zM1005 709h1v1h-1zM1008 711h1v1h-1zM1009 712h1v1h-1zM1013 713h3v1h-3zM1016 714h1v1h-1zM1018 715h1v1h-1zM1019 714h2v1h-2zM1021 716h1v1h-1zM1026 718h1v1h-1zM1031 719h2v1h-2zM1033 720h2v1h-2zM1039 722h1v1h-1zM1042 723h2v1h-2zM1046 724h1v1h-1zM1047 726h2v1h-2zM1051 727h1v1h-1zM1056 729h1v1h-1zM1064 731h1v1h-1zM1065 732h1v1h-1zM1066 733h1v1h-1zM1070 734h1v1h-1zM1071 735h1v1h-1zM1074 736h2v1h-2zM1078 737h1v1h-1zM1079 738h1v1h-1z"/>
<path fill="#e8e000" d="M685 757h1v1h-1zM692 755h1v1h-1zM698 755h1v1h-1zM738 744h1v1h-1zM743 742h1v1h-1zM746 739h1v1h-1zM747 741h1v1h-1zM754 739h2v1h-2zM757 738h1v1h-1zM763 736h2v1h-2zM766 736h1v1h-1zM770 734h1v1h-1zM776 731h1v1h-1zM778 730h1v1h-1zM779 729h1v1h-1zM780 730h1v1h-1zM781 729h1v1h-1zM783 728h1v1h-1zM787 726h3v1h-3zM790 725h1v1h-1zM792 724h1v1h-1zM793 723h1v1h-1zM795 723h2v1h-2zM797 722h2v1h-2zM799 721h2v1h-2zM801 720h1v1h-1zM804 721h1v1h-1zM805 718h1v1h-1zM806 719h1v1h-1zM807 718h1v1h-1zM809 719h1v1h-1zM813 715h1v1h-1zM817 714h2v1h-2zM819 715h1v1h-1zM820 713h1v1h-1zM821 714h1v1h-1zM823 713h1v1h-1zM824 711h1v1h-1zM825 712h1v1h-1zM826 711h1v1h-1zM829 709h1v1h-1zM830 710h1v1h-1zM833 709h1v1h-1zM834 710h1v1h-1zM835 709h1v1h-1zM838 707h1v1h-1zM839 706h1v1h-1zM840 707h1v2h-1zM841 706h1v1h-1zM842 705h2v1h-2zM845 705h3v1h-3zM848 704h1v1h-1zM851 704h1v1h-1zM853 702h1v1h-1zM854 703h1v1h-1zM855 701h1v1h-1zM856 702h1v1h-1zM857 703h1v1h-1zM858 701h1v1h-1zM859 699h1v2h-1zM860 697h1v2h-1zM861 698h1v1h-1zM863 700h1v1h-1zM864 697h1v1h-1zM865 699h1v1h-1zM866 698h1v1h-1zM869 699h1v1h-1zM871 698h1v2h-1zM872 695h1v2h-1zM875 696h1v1h-1zM876 697h1v2h-1zM877 698h1v1h-1zM878 696h2v1h-2zM880 693h1v2h-1zM881 694h1v1h-1zM883 695h1v1h-1zM884 693h1v2h-1zM885 694h1v2h-1zM886 696h1v1h-1zM887 694h1v1h-1zM889 693h2v1h-2zM892 692h1v2h-1zM893 693h2v1h-2zM895 693h1v2h-1zM896 690h1v2h-1zM897 693h1v2h-1zM900 691h1v1h-1zM901 693h1v2h-1zM904 694h1v1h-1zM906 692h4v1h-4zM910 691h1v1h-1zM912 691h1v2h-1zM913 693h2v1h-2zM915 692h1v1h-1zM916 690h1v1h-1zM917 692h2v1h-2zM921 690h1v1h-1zM922 691h1v1h-1zM925 693h1v1h-1zM926 692h1v1h-1zM927 693h1v1h-1zM928 691h1v2h-1zM929 692h1v1h-1zM930 691h1v2h-1zM931 693h1v1h-1zM933 692h1v1h-1zM934 694h1v1h-1zM938 693h1v1h-1zM939 694h2v1h-2zM941 693h1v1h-1zM943 693h1v1h-1zM944 692h1v1h-1zM945 693h1v1h-1zM946 696h1v1h-1zM948 692h1v1h-1zM949 693h1v1h-1zM950 694h1v1h-1zM951 696h1v2h-1zM952 692h1v2h-1zM953 693h1v1h-1zM954 691h1v2h-1zM955 692h1v1h-1zM956 693h1v1h-1zM957 695h1v1h-1zM960 695h2v1h-2zM962 696h1v2h-1zM963 695h2v1h-2zM965 698h1v1h-1zM966 694h1v1h-1zM971 697h1v1h-1zM972 699h1v1h-1zM973 698h1v1h-1zM974 696h1v1h-1zM975 697h1v1h-1zM976 697h1v2h-1zM977 699h1v2h-1zM978 702h1v1h-1zM981 698h1v1h-1zM982 699h1v1h-1zM984 701h1v1h-1zM985 699h1v2h-1zM988 702h1v1h-1zM989 703h1v2h-1zM990 705h1v1h-1zM991 703h1v1h-1zM997 705h1v1h-1zM998 706h1v1h-1zM999 707h1v1h-1zM1000 708h1v1h-1zM1001 709h1v1h-1zM1002 710h1v1h-1zM1003 711h2v1h-2zM1006 710h1v1h-1zM1007 711h1v1h-1zM1008 712h1v1h-1zM1009 713h1v1h-1zM1011 712h1v1h-1zM1012 713h1v1h-1zM1013 714h2v1h-2zM1018 716h1v1h-1zM1019 715h2v1h-2zM1021 717h1v1h-1zM1023 717h2v1h-2zM1025 718h1v1h-1zM1026 717h1v1h-1zM1029 719h1v1h-1zM1035 721h1v1h-1zM1036 722h1v1h-1zM1037 721h1v1h-1zM1038 722h1v1h-1zM1040 722h1v1h-1zM1041 723h1v1h-1zM1042 724h1v1h-1zM1044 725h1v1h-1zM1045 726h1v1h-1zM1050 727h1v1h-1zM1052 728h1v1h-1zM1053 727h2v1h-2zM1055 728h1v1h-1zM1057 730h2v1h-2zM1060 730h1v1h-1zM1061 731h1v1h-1zM1072 735h1v1h-1zM1073 736h1v1h-1zM1081 738h1v1h-1zM1083 739h1v1h-1z"/>
<path fill="#ff8000" d="M697 754h1v1h-1zM711 752h1v1h-1zM713 751h2v1h-2zM720 750h1v1h-1zM728 748h1v1h-1zM729 749h1v1h-1zM730 748h1v1h-1zM739 744h1v1h-1zM744 741h1v1h-1zM745 738h1v1h-1zM750 741h1v1h-1zM753 740h1v1h-1zM759 738h1v1h-1zM761 736h1v1h-1zM765 736h1v1h-1zM767 735h1v1h-1zM771 734h1v1h-1zM772 733h1v1h-1zM774 732h1v1h-1zM782 729h1v1h-1zM784 729h2v1h-2zM786 727h1v1h-1zM790 726h1v1h-1zM791 724h1v1h-1zM794 724h2v1h-2zM801 721h1v1h-1zM802 720h2v1h-2zM807 719h1v1h-1zM808 718h1v1h-1zM810 717h1v1h-1zM812 716h1v1h-1zM814 716h3v1h-3zM818 716h1v1h-1zM820 714h1v1h-1zM821 715h1v1h-1zM824 712h1v1h-1zM825 713h1v1h-1zM826 712h1v1h-1zM827 710h1v2h-1zM828 709h1v1h-1zM829 710h1v1h-1zM830 711h1v1h-1zM831 709h2v1h-2zM833 710h1v1h-1zM834 711h1v1h-1zM836 710h1v1h-1zM837 708h1v2h-1zM838 708h1v1h-1zM841 707h1v2h-1zM842 706h2v1h-2zM844 705h1v1h-1zM845 706h1v1h-1zM846 707h1v1h-1zM849 703h1v1h-1zM850 704h1v1h-1zM852 703h1v2h-1zM854 704h1v1h-1zM855 702h1v1h-1zM856 703h1v1h-1zM857 704h1v1h-1zM858 702h1v1h-1zM861 699h1v1h-1zM862 700h1v1h-1zM863 701h1v1h-1zM864 698h1v2h-1zM865 700h1v2h-1zM866 699h1v1h-1zM867 698h1v1h-1zM868 698h1v2h-1zM869 700h1v1h-1zM870 699h1v2h-1zM871 700h1v1h-1zM872 697h1v1h-1zM873 696h2v1h-2zM875 697h1v2h-1zM876 699h1v1h-1zM877 699h1v2h-1zM878 697h2v1h-2zM880 695h1v1h-1zM881 696h1v1h-1zM882 695h1v1h-1zM883 696h1v1h-1zM886 697h1v1h-1zM887 695h1v1h-1zM888 692h1v1h-1zM890 695h1v1h-1zM891 693h1v2h-1zM893 694h1v1h-1zM894 695h1v1h-1zM896 692h1v1h-1zM897 695h1v1h-1zM899 693h1v1h-1zM900 692h1v2h-1zM901 697h1v1h-1zM902 695h1v2h-1zM903 694h1v1h-1zM904 695h1v1h-1zM905 694h1v1h-1zM908 693h1v1h-1zM910 692h2v1h-2zM912 693h1v1h-1zM913 694h2v1h-2zM915 693h1v1h-1zM916 691h1v1h-1zM917 693h2v1h-2zM919 694h1v2h-1zM920 692h1v2h-1zM921 691h1v1h-1zM922 692h1v1h-1zM924 693h1v1h-1zM925 694h1v1h-1zM926 693h1v1h-1zM927 694h1v1h-1zM928 693h1v1h-1zM930 693h1v1h-1zM931 694h1v1h-1zM932 692h1v2h-1zM933 693h1v1h-1zM934 695h1v1h-1zM935 694h1v1h-1zM936 692h1v1h-1zM937 693h1v2h-1zM938 694h1v1h-1zM939 695h1v2h-1zM940 695h2v1h-2zM942 694h1v1h-1zM944 693h1v2h-1zM945 694h1v2h-1zM946 697h1v2h-1zM947 693h1v2h-1zM948 693h1v1h-1zM949 694h1v1h-1zM950 695h1v1h-1zM951 698h1v1h-1zM952 694h1v2h-1zM953 694h1v1h-1zM954 693h2v1h-2zM956 694h1v1h-1zM957 696h1v1h-1zM958 697h1v1h-1zM959 696h1v1h-1zM960 697h1v1h-1zM961 696h1v1h-1zM962 698h1v1h-1zM963 696h1v1h-1zM965 699h1v1h-1zM966 695h1v1h-1zM967 696h1v2h-1zM968 696h1v1h-1zM969 697h1v2h-1zM970 696h1v2h-1zM971 698h1v2h-1zM973 699h1v1h-1zM974 697h1v1h-1zM975 698h1v1h-1zM979 700h2v1h-2zM981 699h1v1h-1zM982 700h1v1h-1zM983 701h1v1h-1zM984 702h1v1h-1zM985 701h1v1h-1zM986 702h1v1h-1zM987 704h1v1h-1zM990 706h1v1h-1zM991 704h1v1h-1zM992 703h1v2h-1zM993 705h1v2h-1zM994 706h1v1h-1zM995 704h1v2h-1zM996 705h1v2h-1zM997 706h1v1h-1zM998 707h1v1h-1zM999 708h1v1h-1zM1000 709h1v1h-1zM1001 710h1v1h-1zM1002 711h1v1h-1zM1003 712h2v1h-2zM1005 710h1v1h-1zM1010 712h1v1h-1zM1011 713h1v1h-1zM1012 714h1v1h-1zM1014 715h3v1h-3zM1017 716h1v1h-1zM1022 717h1v1h-1zM1024 718h1v1h-1zM1025 719h1v1h-1zM1027 718h1v1h-1zM1028 719h1v1h-1zM1030 720h1v1h-1zM1032 720h1v1h-1zM1033 721h1v1h-1zM1037 722h1v1h-1zM1038 723h3v1h-3zM1041 724h1v1h-1zM1042 725h1v1h-1zM1043 724h1v1h-1zM1046 725h1v1h-1zM1048 727h2v1h-2zM1051 728h1v1h-1zM1054 728h1v1h-1zM1055 729h1v1h-1zM1056 730h1v1h-1zM1058 731h2v1h-2zM1062 732h2v1h-2zM1070 735h1v1h-1zM1076 737h1v1h-1zM1077 738h1v1h-1zM1080 738h1v1h-1zM1082 739h1v1h-1zM1084 740h1v1h-1zM1085 741h1v1h-1z"/>
<path fill="#00c8e8" d="M722 749h1v1h-1zM726 748h1v1h-1zM742 743h1v1h-1zM751 740h2v1h-2zM761 735h1v1h-1zM762 736h1v1h-1zM769 733h1v1h-1zM772 732h2v1h-2zM774 731h1v1h-1zM775 730h1v1h-1zM782 728h1v1h-1zM793 722h1v1h-1zM794 723h1v1h-1zM796 722h1v1h-1zM798 721h1v1h-1zM800 720h1v1h-1zM805 717h1v1h-1zM806 718h1v1h-1zM809 718h1v1h-1zM811 715h1v1h-1zM814 714h1v1h-1zM816 714h1v1h-1zM817 713h1v1h-1zM819 714h1v1h-1zM820 712h1v1h-1zM821 713h1v1h-1zM823 711h1v1h-1zM824 710h1v1h-1zM825 711h1v1h-1zM828 707h1v1h-1zM829 708h1v1h-1zM830 709h1v1h-1zM831 707h2v1h-2zM833 708h1v1h-1zM834 709h1v1h-1zM835 707h1v1h-1zM836 708h1v1h-1zM837 707h1v1h-1zM840 706h1v1h-1zM841 705h1v1h-1zM842 704h1v1h-1zM844 703h1v1h-1zM845 704h2v1h-2zM847 703h1v1h-1zM849 701h1v1h-1zM850 702h2v1h-2zM852 701h1v1h-1zM854 702h1v1h-1zM855 700h1v1h-1zM856 701h1v1h-1zM859 698h1v1h-1zM860 696h1v1h-1zM861 697h1v1h-1zM862 698h1v1h-1zM863 699h1v1h-1zM864 696h1v1h-1zM865 698h1v1h-1zM866 696h1v1h-1zM868 696h1v1h-1zM869 698h2v1h-2zM871 696h1v2h-1zM872 693h1v2h-1zM873 694h1v1h-1zM877 696h1v2h-1zM878 694h1v2h-1zM879 695h1v1h-1zM880 692h1v1h-1zM881 693h1v1h-1zM882 692h1v2h-1zM883 693h1v2h-1zM884 692h1v1h-1zM885 693h1v1h-1zM886 694h1v1h-1zM887 692h1v1h-1zM888 690h1v1h-1zM889 691h1v1h-1zM890 692h1v1h-1zM891 691h2v1h-2zM893 692h3v1h-3zM899 691h1v1h-1zM900 690h1v1h-1zM901 692h2v1h-2zM905 692h1v1h-1zM906 690h2v1h-2zM911 690h1v1h-1zM914 691h1v1h-1zM917 691h2v1h-2zM919 692h1v1h-1zM920 690h1v1h-1zM922 690h1v1h-1zM925 691h1v1h-1zM927 692h1v1h-1zM928 690h3v1h-3zM931 691h1v1h-1zM932 690h1v2h-1zM933 691h1v1h-1zM934 693h1v1h-1zM935 691h1v2h-1zM938 692h1v1h-1zM939 693h1v1h-1zM941 692h2v1h-2zM944 691h1v1h-1zM945 692h1v1h-1zM946 695h1v1h-1zM947 691h1v1h-1zM951 695h1v1h-1zM953 691h1v1h-1zM954 690h1v1h-1zM957 693h1v2h-1zM958 695h1v1h-1zM959 694h1v1h-1zM961 694h1v1h-1zM962 695h1v1h-1zM963 693h1v1h-1zM966 693h1v1h-1zM967 694h1v1h-1zM970 694h1v1h-1zM971 696h1v1h-1zM973 696h1v2h-1zM974 695h1v1h-1zM975 696h1v1h-1zM976 695h1v1h-1zM977 697h1v1h-1zM978 700h1v1h-1zM980 699h1v1h-1zM981 697h1v1h-1zM982 698h1v1h-1zM984 700h1v1h-1zM985 697h1v2h-1zM986 699h1v2h-1zM988 700h1v2h-1zM989 702h1v1h-1zM998 705h2v1h-2zM1000 706h1v2h-1zM1001 708h1v1h-1zM1002 709h1v1h-1zM1005 708h1v1h-1zM1006 709h1v1h-1zM1007 710h1v1h-1zM1011 711h1v1h-1zM1012 712h1v1h-1zM1017 715h1v1h-1zM1021 715h1v1h-1zM1022 716h1v1h-1zM1027 716h1v1h-1zM1028 717h1v2h-1zM1029 718h1v1h-1zM1030 719h1v1h-1zM1035 720h1v1h-1zM1036 721h1v1h-1zM1038 721h1v1h-1zM1040 721h1v1h-1zM1041 722h1v1h-1zM1044 724h1v1h-1zM1045 725h1v1h-1zM1049 726h1v1h-1zM1052 727h1v1h-1zM1057 729h1v1h-1zM1059 730h1v1h-1zM1062 731h2v1h-2zM1066 732h1v1h-1zM1067 733h2v1h-2zM1069 734h1v1h-1z"/>
<path fill="#0060ff" d="M724 749h1v1h-1zM778 729h1v1h-1zM808 716h1v1h-1zM815 715h1v1h-1zM837 706h1v1h-1zM843 704h1v1h-1zM851 703h1v1h-1zM852 702h1v1h-1zM857 701h1v1h-1zM858 699h1v1h-1zM867 695h1v1h-1zM870 697h1v1h-1zM902 693h1v1h-1zM911 691h1v1h-1zM929 691h1v1h-1zM943 691h1v1h-1zM949 691h1v1h-1zM950 692h1v1h-1zM953 692h1v1h-1zM979 698h1v1h-1zM999 706h1v1h-1zM1010 711h1v1h-1zM1015 714h1v1h-1zM1025 717h1v1h-1zM1027 717h1v1h-1zM1077 737h1v1h-1zM1086 740h1v1h-1z"/>
<path fill="#0000c0" d="M832 708h1v1h-1zM846 706h1v1h-1zM874 695h1v1h-1zM907 693h1v1h-1zM910 690h1v1h-1zM923 691h1v1h-1zM926 694h1v1h-1z"/>
</g>
<g opacity="0.996">
<text transform="translate(327.9,78.0) scale(1.03,1)" font-size="26.0">Bin</text>
<path class="g1" d="M378.80 78.00L378.80 59.38L377.36 59.38L372.41 63.57L372.41 65.91L376.72 62.27L376.72 78.00z"/>
<text transform="translate(147.2,200.6) scale(0.955,1)" font-size="24.8" text-anchor="start">3890</text>
<text transform="translate(267.2,200.6) scale(0.955,1)" font-size="24.8" text-anchor="start">3900</text>
<text transform="translate(387.2,200.6) scale(0.955,1)" font-size="24.8" text-anchor="start">39</text>
<path class="g1" d="M422.31 200.60L422.31 182.84L420.89 182.84L415.99 186.84L415.99 189.07L420.25 185.60L420.25 200.60z"/>
<text transform="translate(426.7,200.6) scale(0.955,1)" font-size="24.8" text-anchor="start">0</text>
<text transform="translate(508.2,200.6) scale(0.955,1)" font-size="24.8" text-anchor="start">3920</text>
<text transform="translate(111.2,111.6) scale(0.955,1)" font-size="24.8" text-anchor="start">200</text>
<path class="g1" d="M119.99 145.60L119.99 127.84L118.57 127.84L113.67 131.84L113.67 134.07L117.93 130.60L117.93 145.60z"/>
<text transform="translate(124.4,145.6) scale(0.955,1)" font-size="24.8" text-anchor="start">00</text>
<text transform="translate(97.0,134.0) rotate(-90) scale(0.953,1)" font-size="26.0" text-anchor="middle">ADU</text>
<text transform="translate(250.1,238.8) scale(0.93,1)" font-size="26.0">Wavenumber</text>
<text transform="translate(400.7,238.8) scale(0.93,1)" font-size="26.0">[cm</text>
<text transform="translate(438.5,225.9) scale(1.0,1)" font-size="17">-</text>
<path class="g1" d="M451.10 225.90L451.10 213.58L450.07 213.58L446.51 216.35L446.51 217.90L449.60 215.49L449.60 225.90z"/>
<text transform="translate(455.1,238.8) scale(0.93,1)" font-size="26.0">]</text>
<text transform="translate(855.9,78.0) scale(1.03,1)" font-size="26.0">Bin</text>
<text transform="translate(899.2,78.0) scale(0.92,1)" font-size="26.0">2</text>
<text transform="translate(675.2,200.6) scale(0.955,1)" font-size="24.8" text-anchor="start">3890</text>
<text transform="translate(795.2,200.6) scale(0.955,1)" font-size="24.8" text-anchor="start">3900</text>
<text transform="translate(916.2,200.6) scale(0.955,1)" font-size="24.8" text-anchor="start">39</text>
<path class="g1" d="M951.31 200.60L951.31 182.84L949.89 182.84L944.99 186.84L944.99 189.07L949.25 185.60L949.25 200.60z"/>
<text transform="translate(955.7,200.6) scale(0.955,1)" font-size="24.8" text-anchor="start">0</text>
<text transform="translate(1036.2,200.6) scale(0.955,1)" font-size="24.8" text-anchor="start">3920</text>
<text transform="translate(639.2,112.6) scale(0.955,1)" font-size="24.8" text-anchor="start">200</text>
<path class="g1" d="M647.99 146.60L647.99 128.84L646.57 128.84L641.67 132.84L641.67 135.07L645.93 131.60L645.93 146.60z"/>
<text transform="translate(652.4,146.6) scale(0.955,1)" font-size="24.8" text-anchor="start">00</text>
<text transform="translate(625.0,134.0) rotate(-90) scale(0.953,1)" font-size="26.0" text-anchor="middle">ADU</text>
<text transform="translate(778.1,238.8) scale(0.93,1)" font-size="26.0">Wavenumber</text>
<text transform="translate(928.7,238.8) scale(0.93,1)" font-size="26.0">[cm</text>
<text transform="translate(966.5,225.9) scale(1.0,1)" font-size="17">-</text>
<path class="g1" d="M979.10 225.90L979.10 213.58L978.07 213.58L974.51 216.35L974.51 217.90L977.60 215.49L977.60 225.90z"/>
<text transform="translate(983.1,238.8) scale(0.93,1)" font-size="26.0">]</text>
<text transform="translate(327.9,275.0) scale(1.03,1)" font-size="26.0">Bin</text>
<text transform="translate(371.2,275.0) scale(0.92,1)" font-size="26.0">3</text>
<text transform="translate(147.2,398.6) scale(0.955,1)" font-size="24.8" text-anchor="start">3890</text>
<text transform="translate(267.2,398.6) scale(0.955,1)" font-size="24.8" text-anchor="start">3900</text>
<text transform="translate(387.2,398.6) scale(0.955,1)" font-size="24.8" text-anchor="start">39</text>
<path class="g1" d="M422.31 398.60L422.31 380.84L420.89 380.84L415.99 384.84L415.99 387.07L420.25 383.60L420.25 398.60z"/>
<text transform="translate(426.7,398.6) scale(0.955,1)" font-size="24.8" text-anchor="start">0</text>
<text transform="translate(508.2,398.6) scale(0.955,1)" font-size="24.8" text-anchor="start">3920</text>
<text transform="translate(111.2,307.6) scale(0.955,1)" font-size="24.8" text-anchor="start">200</text>
<path class="g1" d="M119.99 342.60L119.99 324.84L118.57 324.84L113.67 328.84L113.67 331.07L117.93 327.60L117.93 342.60z"/>
<text transform="translate(124.4,342.6) scale(0.955,1)" font-size="24.8" text-anchor="start">00</text>
<text transform="translate(97.0,331.5) rotate(-90) scale(0.953,1)" font-size="26.0" text-anchor="middle">ADU</text>
<text transform="translate(250.1,436.8) scale(0.93,1)" font-size="26.0">Wavenumber</text>
<text transform="translate(400.7,436.8) scale(0.93,1)" font-size="26.0">[cm</text>
<text transform="translate(438.5,423.9) scale(1.0,1)" font-size="17">-</text>
<path class="g1" d="M451.10 423.90L451.10 411.58L450.07 411.58L446.51 414.35L446.51 415.90L449.60 413.49L449.60 423.90z"/>
<text transform="translate(455.1,436.8) scale(0.93,1)" font-size="26.0">]</text>
<text transform="translate(855.9,275.0) scale(1.03,1)" font-size="26.0">Bin</text>
<text transform="translate(899.2,275.0) scale(0.92,1)" font-size="26.0">4</text>
<text transform="translate(675.2,398.6) scale(0.955,1)" font-size="24.8" text-anchor="start">3890</text>
<text transform="translate(795.2,398.6) scale(0.955,1)" font-size="24.8" text-anchor="start">3900</text>
<text transform="translate(916.2,398.6) scale(0.955,1)" font-size="24.8" text-anchor="start">39</text>
<path class="g1" d="M951.31 398.60L951.31 380.84L949.89 380.84L944.99 384.84L944.99 387.07L949.25 383.60L949.25 398.60z"/>
<text transform="translate(955.7,398.6) scale(0.955,1)" font-size="24.8" text-anchor="start">0</text>
<text transform="translate(1036.2,398.6) scale(0.955,1)" font-size="24.8" text-anchor="start">3920</text>
<path class="g1" d="M647.99 321.60L647.99 303.84L646.57 303.84L641.67 307.84L641.67 310.07L645.93 306.60L645.93 321.60z"/>
<text transform="translate(652.4,321.6) scale(0.955,1)" font-size="24.8" text-anchor="start">50</text>
<path class="g1" d="M647.99 340.60L647.99 322.84L646.57 322.84L641.67 326.84L641.67 329.07L645.93 325.60L645.93 340.60z"/>
<text transform="translate(652.4,340.6) scale(0.955,1)" font-size="24.8" text-anchor="start">00</text>
<text transform="translate(652.4,359.6) scale(0.955,1)" font-size="24.8" text-anchor="start">50</text>
<text transform="translate(625.0,331.5) rotate(-90) scale(0.953,1)" font-size="26.0" text-anchor="middle">ADU</text>
<text transform="translate(778.1,436.8) scale(0.93,1)" font-size="26.0">Wavenumber</text>
<text transform="translate(928.7,436.8) scale(0.93,1)" font-size="26.0">[cm</text>
<text transform="translate(966.5,423.9) scale(1.0,1)" font-size="17">-</text>
<path class="g1" d="M979.10 423.90L979.10 411.58L978.07 411.58L974.51 414.35L974.51 415.90L977.60 413.49L977.60 423.90z"/>
<text transform="translate(983.1,436.8) scale(0.93,1)" font-size="26.0">]</text>
<text transform="translate(327.9,473.0) scale(1.03,1)" font-size="26.0">Bin</text>
<text transform="translate(371.2,473.0) scale(0.92,1)" font-size="26.0">5</text>
<text transform="translate(147.2,595.6) scale(0.955,1)" font-size="24.8" text-anchor="start">3890</text>
<text transform="translate(267.2,595.6) scale(0.955,1)" font-size="24.8" text-anchor="start">3900</text>
<text transform="translate(387.2,595.6) scale(0.955,1)" font-size="24.8" text-anchor="start">39</text>
<path class="g1" d="M422.31 595.60L422.31 577.84L420.89 577.84L415.99 581.84L415.99 584.07L420.25 580.60L420.25 595.60z"/>
<text transform="translate(426.7,595.6) scale(0.955,1)" font-size="24.8" text-anchor="start">0</text>
<text transform="translate(508.2,595.6) scale(0.955,1)" font-size="24.8" text-anchor="start">3920</text>
<path class="g1" d="M119.99 515.60L119.99 497.84L118.57 497.84L113.67 501.84L113.67 504.07L117.93 500.60L117.93 515.60z"/>
<text transform="translate(124.4,515.6) scale(0.955,1)" font-size="24.8" text-anchor="start">50</text>
<path class="g1" d="M119.99 535.60L119.99 517.84L118.57 517.84L113.67 521.84L113.67 524.07L117.93 520.60L117.93 535.60z"/>
<text transform="translate(124.4,535.6) scale(0.955,1)" font-size="24.8" text-anchor="start">00</text>
<text transform="translate(124.4,555.6) scale(0.955,1)" font-size="24.8" text-anchor="start">50</text>
<text transform="translate(97.0,529.0) rotate(-90) scale(0.953,1)" font-size="26.0" text-anchor="middle">ADU</text>
<text transform="translate(250.1,633.8) scale(0.93,1)" font-size="26.0">Wavenumber</text>
<text transform="translate(400.7,633.8) scale(0.93,1)" font-size="26.0">[cm</text>
<text transform="translate(438.5,620.9) scale(1.0,1)" font-size="17">-</text>
<path class="g1" d="M451.10 620.90L451.10 608.58L450.07 608.58L446.51 611.35L446.51 612.90L449.60 610.49L449.60 620.90z"/>
<text transform="translate(455.1,633.8) scale(0.93,1)" font-size="26.0">]</text>
<text transform="translate(855.9,473.0) scale(1.03,1)" font-size="26.0">Bin</text>
<text transform="translate(899.2,473.0) scale(0.92,1)" font-size="26.0">6</text>
<text transform="translate(675.2,595.6) scale(0.955,1)" font-size="24.8" text-anchor="start">3890</text>
<text transform="translate(795.2,595.6) scale(0.955,1)" font-size="24.8" text-anchor="start">3900</text>
<text transform="translate(916.2,595.6) scale(0.955,1)" font-size="24.8" text-anchor="start">39</text>
<path class="g1" d="M951.31 595.60L951.31 577.84L949.89 577.84L944.99 581.84L944.99 584.07L949.25 580.60L949.25 595.60z"/>
<text transform="translate(955.7,595.6) scale(0.955,1)" font-size="24.8" text-anchor="start">0</text>
<text transform="translate(1036.2,595.6) scale(0.955,1)" font-size="24.8" text-anchor="start">3920</text>
<path class="g1" d="M647.99 509.60L647.99 491.84L646.57 491.84L641.67 495.84L641.67 498.07L645.93 494.60L645.93 509.60z"/>
<text transform="translate(652.4,509.6) scale(0.955,1)" font-size="24.8" text-anchor="start">50</text>
<path class="g1" d="M647.99 531.60L647.99 513.84L646.57 513.84L641.67 517.84L641.67 520.07L645.93 516.60L645.93 531.60z"/>
<text transform="translate(652.4,531.6) scale(0.955,1)" font-size="24.8" text-anchor="start">00</text>
<text transform="translate(652.4,553.6) scale(0.955,1)" font-size="24.8" text-anchor="start">50</text>
<text transform="translate(625.0,529.0) rotate(-90) scale(0.953,1)" font-size="26.0" text-anchor="middle">ADU</text>
<text transform="translate(778.1,633.8) scale(0.93,1)" font-size="26.0">Wavenumber</text>
<text transform="translate(928.7,633.8) scale(0.93,1)" font-size="26.0">[cm</text>
<text transform="translate(966.5,620.9) scale(1.0,1)" font-size="17">-</text>
<path class="g1" d="M979.10 620.90L979.10 608.58L978.07 608.58L974.51 611.35L974.51 612.90L977.60 610.49L977.60 620.90z"/>
<text transform="translate(983.1,633.8) scale(0.93,1)" font-size="26.0">]</text>
<text transform="translate(327.9,670.0) scale(1.03,1)" font-size="26.0">Bin</text>
<text transform="translate(371.2,670.0) scale(0.92,1)" font-size="26.0">7</text>
<text transform="translate(147.2,792.6) scale(0.955,1)" font-size="24.8" text-anchor="start">3890</text>
<text transform="translate(267.2,792.6) scale(0.955,1)" font-size="24.8" text-anchor="start">3900</text>
<text transform="translate(387.2,792.6) scale(0.955,1)" font-size="24.8" text-anchor="start">39</text>
<path class="g1" d="M422.31 792.60L422.31 774.84L420.89 774.84L415.99 778.84L415.99 781.07L420.25 777.60L420.25 792.60z"/>
<text transform="translate(426.7,792.6) scale(0.955,1)" font-size="24.8" text-anchor="start">0</text>
<text transform="translate(508.2,792.6) scale(0.955,1)" font-size="24.8" text-anchor="start">3920</text>
<path class="g1" d="M119.99 702.60L119.99 684.84L118.57 684.84L113.67 688.84L113.67 691.07L117.93 687.60L117.93 702.60z"/>
<text transform="translate(124.4,702.6) scale(0.955,1)" font-size="24.8" text-anchor="start">40</text>
<path class="g1" d="M119.99 712.60L119.99 694.84L118.57 694.84L113.67 698.84L113.67 701.07L117.93 697.60L117.93 712.60z"/>
<text transform="translate(124.4,712.6) scale(0.955,1)" font-size="24.8" text-anchor="start">20</text>
<path class="g1" d="M119.99 722.60L119.99 704.84L118.57 704.84L113.67 708.84L113.67 711.07L117.93 707.60L117.93 722.60z"/>
<text transform="translate(124.4,722.6) scale(0.955,1)" font-size="24.8" text-anchor="start">00</text>
<text transform="translate(124.4,732.6) scale(0.955,1)" font-size="24.8" text-anchor="start">80</text>
<text transform="translate(124.4,742.6) scale(0.955,1)" font-size="24.8" text-anchor="start">60</text>
<text transform="translate(124.4,752.6) scale(0.955,1)" font-size="24.8" text-anchor="start">40</text>
<text transform="translate(124.4,762.6) scale(0.955,1)" font-size="24.8" text-anchor="start">20</text>
<text transform="translate(97.0,726.0) rotate(-90) scale(0.953,1)" font-size="26.0" text-anchor="middle">ADU</text>
<text transform="translate(250.1,830.8) scale(0.93,1)" font-size="26.0">Wavenumber</text>
<text transform="translate(400.7,830.8) scale(0.93,1)" font-size="26.0">[cm</text>
<text transform="translate(438.5,817.9) scale(1.0,1)" font-size="17">-</text>
<path class="g1" d="M451.10 817.90L451.10 805.58L450.07 805.58L446.51 808.35L446.51 809.90L449.60 807.49L449.60 817.90z"/>
<text transform="translate(455.1,830.8) scale(0.93,1)" font-size="26.0">]</text>
<text transform="translate(855.9,670.0) scale(1.03,1)" font-size="26.0">Bin</text>
<text transform="translate(899.2,670.0) scale(0.92,1)" font-size="26.0">8</text>
<text transform="translate(675.2,792.6) scale(0.955,1)" font-size="24.8" text-anchor="start">3890</text>
<text transform="translate(795.2,792.6) scale(0.955,1)" font-size="24.8" text-anchor="start">3900</text>
<text transform="translate(916.2,792.6) scale(0.955,1)" font-size="24.8" text-anchor="start">39</text>
<path class="g1" d="M951.31 792.60L951.31 774.84L949.89 774.84L944.99 778.84L944.99 781.07L949.25 777.60L949.25 792.60z"/>
<text transform="translate(955.7,792.6) scale(0.955,1)" font-size="24.8" text-anchor="start">0</text>
<text transform="translate(1036.2,792.6) scale(0.955,1)" font-size="24.8" text-anchor="start">3920</text>
<text transform="translate(652.4,718.6) scale(0.955,1)" font-size="24.8" text-anchor="start">60</text>
<text transform="translate(652.4,736.6) scale(0.955,1)" font-size="24.8" text-anchor="start">40</text>
<text transform="translate(652.4,754.6) scale(0.955,1)" font-size="24.8" text-anchor="start">20</text>
<text transform="translate(638.0,726.0) rotate(-90) scale(0.953,1)" font-size="26.0" text-anchor="middle">ADU</text>
<text transform="translate(778.1,830.8) scale(0.93,1)" font-size="26.0">Wavenumber</text>
<text transform="translate(928.7,830.8) scale(0.93,1)" font-size="26.0">[cm</text>
<text transform="translate(966.5,817.9) scale(1.0,1)" font-size="17">-</text>
<path class="g1" d="M979.10 817.90L979.10 805.58L978.07 805.58L974.51 808.35L974.51 809.90L977.60 807.49L977.60 817.90z"/>
<text transform="translate(983.1,830.8) scale(0.93,1)" font-size="26.0">]</text>
</g>
</svg></body></html>
